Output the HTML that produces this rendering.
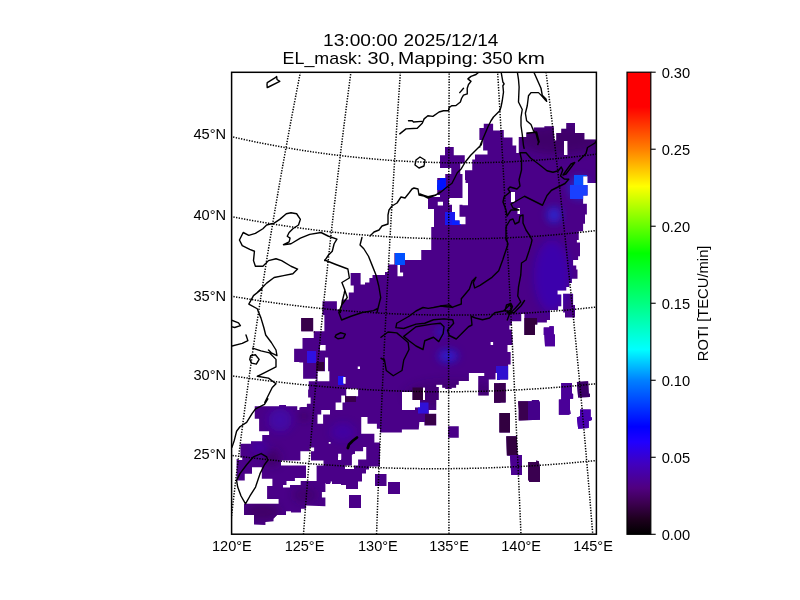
<!DOCTYPE html>
<html><head><meta charset="utf-8"><style>
html,body{margin:0;padding:0;background:#fff;width:800px;height:600px;overflow:hidden}
svg{display:block}
text{font-family:"Liberation Sans",sans-serif;fill:#000}
</style></head><body>
<svg width="800" height="600" viewBox="0 0 800 600">
<defs>
<clipPath id="bc"><path d="M453.75,146.88 L445.00,146.88 L445.00,155.25 L440.00,155.25 L440.00,168.00 L451.25,168.00 L451.25,174.00 L445.25,174.00 L445.25,178.00 L437.25,178.00 L437.25,185.00 L437.00,185.00 L437.00,189.75 L437.25,189.75 L437.25,195.00 L440.00,195.00 L440.00,196.88 L428.00,196.88 L428.00,208.88 L434.00,208.88 L434.00,226.88 L431.25,226.88 L431.25,250.00 L421.25,250.00 L421.25,260.00 L405.00,260.00 L405.00,253.12 L400.00,253.12 L394.38,253.12 L394.38,264.38 L388.12,264.38 L388.12,271.88 L385.00,271.88 L385.00,275.00 L372.50,275.00 L372.50,278.12 L369.38,278.12 L369.38,282.50 L365.00,282.50 L365.00,284.38 L360.62,284.38 L360.62,273.12 L350.62,273.12 L350.62,285.62 L353.75,285.62 L353.75,292.50 L348.75,292.50 L348.75,299.38 L341.88,299.38 L341.88,309.38 L336.88,309.38 L336.88,301.25 L322.50,301.25 L322.50,315.00 L324.38,315.00 L324.38,331.25 L313.75,331.25 L313.75,338.12 L302.50,338.12 L302.50,348.75 L299.38,348.75 L294.12,348.75 L294.12,361.88 L299.38,361.88 L299.38,362.50 L303.12,362.50 L303.12,378.75 L316.25,378.75 L316.25,381.25 L308.75,381.25 L308.75,389.38 L308.12,389.38 L308.12,397.50 L310.62,397.50 L310.62,403.75 L306.88,403.75 L306.88,406.88 L300.38,406.88 L300.38,407.50 L299.38,407.50 L299.38,410.00 L297.25,410.00 L297.25,406.25 L286.00,406.25 L286.00,405.00 L279.12,405.00 L279.12,406.25 L254.75,406.25 L254.75,418.75 L259.12,418.75 L259.12,431.25 L269.12,431.25 L269.12,435.00 L262.25,435.00 L262.25,441.25 L251.00,441.25 L251.00,443.75 L240.38,443.75 L240.38,457.50 L242.25,457.50 L242.25,460.00 L237.88,460.00 L237.88,459.00 L236.60,459.00 L236.60,480.60 L244.75,480.60 L244.75,473.75 L252.00,473.75 L252.00,467.30 L261.80,467.30 L261.80,478.80 L272.40,478.80 L272.40,485.90 L267.10,485.90 L267.10,499.00 L278.60,499.00 L278.60,503.75 L244.00,503.75 L244.00,515.00 L254.00,515.00 L254.00,524.40 L265.40,525.00 L265.40,521.90 L273.50,521.25 L273.50,518.75 L277.25,515.00 L286.00,515.00 L286.00,511.25 L291.00,511.25 L291.00,512.50 L301.00,512.50 L301.00,508.75 L306.00,508.75 L306.00,505.60 L325.40,506.20 L325.40,497.40 L321.90,497.40 L321.90,492.00 L325.40,492.00 L325.40,483.20 L326.00,483.20 L326.00,484.00 L330.00,484.00 L330.00,483.20 L330.70,483.20 L330.70,481.50 L332.00,481.50 L332.00,484.00 L341.00,484.00 L341.00,485.00 L346.00,485.00 L346.00,489.00 L358.00,489.00 L358.00,481.50 L362.00,481.50 L362.00,473.50 L366.00,473.50 L366.00,469.50 L369.00,469.50 L369.00,466.50 L380.00,466.50 L380.00,465.00 L380.00,454.00 L380.00,442.50 L374.38,442.50 L374.38,433.75 L361.25,433.75 L361.25,423.75 L361.25,416.88 L367.50,416.88 L367.50,423.75 L376.88,423.75 L376.88,428.75 L380.00,428.75 L380.00,432.50 L399.38,432.50 L400.00,432.50 L401.88,432.50 L401.88,429.38 L418.75,429.38 L419.38,421.88 L424.38,421.88 L424.38,425.62 L436.25,425.62 L436.25,413.75 L428.75,413.75 L428.75,410.00 L436.25,410.00 L436.25,400.00 L438.75,400.00 L438.75,386.88 L436.25,386.88 L436.25,384.75 L439.00,384.75 L440.00,384.75 L442.25,384.75 L442.25,387.75 L445.25,387.75 L445.25,388.90 L451.60,388.90 L451.60,387.75 L456.10,387.75 L456.10,384.75 L458.75,384.75 L458.75,381.00 L468.90,381.00 L468.90,373.10 L484.25,373.10 L484.25,376.10 L478.25,376.10 L478.25,395.60 L488.75,395.60 L488.75,379.50 L495.50,379.50 L495.50,373.10 L497.00,373.10 L497.00,379.90 L500.00,379.90 L500.00,379.38 L508.12,379.38 L508.12,364.38 L510.62,364.38 L510.62,351.88 L507.50,351.88 L507.50,345.00 L512.50,345.00 L512.50,335.00 L511.88,335.00 L511.88,329.38 L509.38,329.38 L509.38,325.62 L511.88,325.62 L511.88,321.25 L521.25,321.25 L521.25,313.75 L524.38,313.75 L524.38,335.00 L535.00,335.00 L535.00,324.38 L537.50,324.38 L537.50,322.50 L546.88,322.50 L546.88,320.00 L550.00,320.00 L550.00,310.00 L558.12,310.00 L558.12,306.25 L561.25,306.25 L561.25,294.38 L557.50,294.38 L557.50,290.62 L566.25,290.62 L566.25,286.88 L569.38,286.88 L569.38,283.12 L571.88,283.12 L571.88,278.75 L577.50,278.75 L577.50,269.38 L576.25,269.38 L576.25,265.62 L573.12,265.62 L573.12,260.00 L578.12,260.00 L578.12,256.25 L580.00,256.25 L580.00,242.50 L576.88,242.50 L576.88,240.00 L578.75,240.00 L578.75,231.25 L583.12,231.25 L583.12,223.75 L585.00,223.75 L585.00,214.38 L586.88,214.38 L586.88,203.75 L583.12,203.75 L583.12,195.62 L587.50,195.62 L587.50,185.00 L583.12,185.00 L583.12,176.25 L587.50,176.25 L587.50,183.12 L598.00,183.12 L598.00,139.38 L584.38,139.38 L584.38,133.12 L575.00,133.12 L575.00,123.12 L566.25,123.12 L566.25,128.75 L561.25,128.75 L561.25,133.12 L556.25,133.12 L556.25,140.62 L554.38,140.62 L553.75,126.25 L544.38,126.25 L544.38,127.50 L533.75,127.50 L533.75,132.50 L526.25,132.50 L526.25,136.88 L518.75,136.88 L518.75,153.12 L516.25,153.12 L516.25,145.62 L512.50,145.62 L512.50,137.50 L503.75,137.50 L503.75,130.00 L500.00,130.00 L500.00,130.62 L493.12,130.62 L493.12,123.75 L483.75,123.75 L483.75,128.12 L479.38,128.12 L479.38,140.00 L483.12,140.00 L483.12,150.62 L487.50,150.62 L487.50,154.38 L475.00,154.38 L475.00,159.38 L472.25,159.38 L472.25,170.25 L465.00,170.25 L465.00,180.00 L465.50,180.00 L465.50,183.00 L467.75,183.00 L468.00,183.00 L468.00,205.30 L462.50,205.30 L462.50,204.75 L459.50,204.75 L459.50,216.75 L465.50,216.75 L465.50,224.25 L459.50,224.25 L459.50,220.50 L455.00,220.50 L455.00,212.00 L452.00,212.00 L452.00,204.75 L449.00,204.75 L449.00,198.00 L462.50,198.00 L462.50,185.00 L462.50,183.00 L462.50,174.00 L460.25,174.00 L460.25,163.50 L464.75,163.50 L464.75,155.25 L453.75,155.25Z M403.12,272.50 L403.12,276.25 L400.00,276.25 L398.75,276.25 L397.50,276.25 L397.50,265.00 L400.00,265.00 L400.00,272.50Z M290.00,485.00 L290.00,487.60 L283.00,487.60 L283.00,485.00 L286.50,485.00 L286.50,481.00 L294.90,481.00 L294.90,477.90 L306.00,477.90 L306.00,465.62 L281.00,465.62 L281.00,460.62 L300.38,460.62 L300.38,451.25 L309.75,451.25 L309.75,447.50 L314.12,447.50 L314.12,451.25 L311.00,451.25 L311.00,460.62 L323.50,460.62 L323.50,465.62 L316.60,465.62 L316.60,481.00 L300.70,481.00 L300.70,485.00Z M325.62,345.00 L325.62,350.62 L320.00,350.62 L320.00,345.00Z M325.00,357.50 L328.12,357.50 L328.12,371.25 L329.38,371.25 L329.38,381.25 L317.50,381.25 L317.50,371.25 L325.00,371.25Z M345.62,376.88 L345.62,383.75 L343.12,383.75 L343.12,376.88Z M358.12,388.75 L358.12,396.25 L346.25,396.25 L346.25,388.75Z M345.00,395.62 L345.00,402.50 L342.50,402.50 L342.50,410.00 L335.62,410.00 L335.62,402.50 L341.25,402.50 L341.25,395.62Z M321.25,414.38 L321.25,410.00 L330.00,410.00 L330.00,414.38 L323.12,414.38 L323.12,423.75 L317.50,423.75 L317.50,414.38Z M330.62,441.88 L330.62,443.75 L328.75,443.75 L328.75,441.88Z M341.25,453.75 L341.25,459.38 L341.00,459.38 L341.00,460.00 L338.00,460.00 L338.00,457.00 L338.12,457.00 L338.12,453.75Z M345.00,465.50 L351.88,465.50 L351.88,455.00 L352.50,455.00 L352.50,454.00 L355.00,454.00 L355.00,451.25 L363.12,451.25 L363.12,446.88 L366.25,446.88 L366.25,451.25 L366.25,459.38 L358.12,459.38 L358.12,465.62 L354.00,465.62 L354.00,469.00 L345.00,469.00Z M567.50,141.00 L567.50,155.00 L564.00,155.00 L564.00,141.00Z M515.00,192.00 L515.00,202.00 L511.00,202.00 L511.00,192.00Z M443.00,201.75 L443.00,205.50 L437.75,205.50 L437.75,201.75Z M520.00,208.00 L520.00,214.00 L517.50,214.00 L517.50,208.00Z M490.62,341.88 L493.12,341.88 L493.12,345.00 L490.62,345.00Z M357.75,366.62 L360.00,366.62 L360.00,369.00 L357.75,369.00Z M425.00,387.50 L425.00,400.00 L423.00,400.00 L423.00,387.50Z M415.00,407.50 L415.00,410.00 L402.00,410.00 L402.00,392.00 L412.50,392.00 L412.50,400.00 L420.00,400.00 L420.00,407.50Z M313.12,318.12 L301.25,318.12 L301.25,331.25 L313.12,331.25Z M448.12,426.25 L448.12,437.75 L458.75,437.75 L458.75,426.25Z M386.50,474.00 L375.00,474.00 L375.00,486.00 L386.50,486.00Z M400.00,482.00 L388.00,482.00 L388.00,494.00 L400.00,494.00Z M349.00,495.00 L349.00,508.00 L361.00,508.00 L361.00,495.00Z M573.12,293.75 L563.12,293.75 L563.12,312.50 L565.00,312.50 L565.00,317.50 L575.00,317.50 L575.00,305.00 L573.12,305.00Z M553.75,326.25 L549.38,326.25 L549.38,327.50 L543.75,327.50 L543.75,335.00 L544.41,335.00 L545.00,346.25 L555.00,346.25 L555.00,334.38 L553.75,334.38Z M590.00,396.88 L590.00,393.75 L588.75,393.75 L588.12,381.25 L576.88,381.88 L578.12,397.50Z M500.50,402.75 L500.50,402.50 L505.62,402.50 L505.62,383.12 L499.38,383.12 L499.38,383.25 L494.00,383.25 L494.00,402.75Z M561.25,399.38 L558.75,399.38 L558.75,409.38 L558.75,410.00 L558.75,414.75 L568.75,414.75 L570.62,413.75 L570.00,409.38 L570.00,398.75 L573.12,398.75 L573.12,393.75 L571.88,393.75 L571.88,383.12 L561.25,383.12Z M518.75,410.00 L518.75,420.62 L540.00,419.75 L540.00,410.00 L540.00,409.38 L540.00,403.12 L538.75,400.00 L531.88,400.00 L531.88,401.25 L518.12,401.25Z M591.88,417.50 L590.62,416.88 L590.62,409.38 L580.00,409.38 L580.00,416.25 L576.88,417.50 L578.12,428.75 L588.75,428.12 L588.75,421.25 L591.88,420.00Z M510.00,413.12 L499.38,413.12 L499.38,432.50 L510.00,432.50Z M506.25,436.25 L506.88,455.62 L510.00,455.62 L511.25,475.00 L521.88,475.00 L521.88,455.00 L517.50,455.00 L516.88,436.25Z M528.12,461.88 L528.12,479.38 L529.38,481.88 L540.00,481.88 L540.00,468.12 L538.75,461.25 L536.25,460.62 L536.25,461.88Z" clip-rule="evenodd"/></clipPath>
<filter id="bl" x="-50%" y="-50%" width="200%" height="200%"><feGaussianBlur stdDeviation="4"/></filter>
<clipPath id="mc"><rect x="231.6" y="72.3" width="364.79999999999995" height="461.90000000000003"/></clipPath>
<linearGradient id="cb" x1="0" y1="1" x2="0" y2="0">
<stop offset="0" stop-color="#000000"/>
<stop offset="0.033" stop-color="#1e001e"/>
<stop offset="0.067" stop-color="#3c0050"/>
<stop offset="0.10" stop-color="#500080"/>
<stop offset="0.153" stop-color="#4000c0"/>
<stop offset="0.20" stop-color="#2000ff"/>
<stop offset="0.233" stop-color="#0000ff"/>
<stop offset="0.333" stop-color="#0080ff"/>
<stop offset="0.40" stop-color="#00ffff"/>
<stop offset="0.50" stop-color="#00ff80"/>
<stop offset="0.608" stop-color="#00ff00"/>
<stop offset="0.753" stop-color="#ffff00"/>
<stop offset="0.833" stop-color="#ff8000"/>
<stop offset="0.925" stop-color="#ff0000"/>
<stop offset="1" stop-color="#ff0000"/>
</linearGradient>
</defs>
<rect width="800" height="600" fill="#fff"/>
<g clip-path="url(#mc)">
<path d="M453.75,146.88 L445.00,146.88 L445.00,155.25 L440.00,155.25 L440.00,168.00 L451.25,168.00 L451.25,174.00 L445.25,174.00 L445.25,178.00 L437.25,178.00 L437.25,185.00 L437.00,185.00 L437.00,189.75 L437.25,189.75 L437.25,195.00 L440.00,195.00 L440.00,196.88 L428.00,196.88 L428.00,208.88 L434.00,208.88 L434.00,226.88 L431.25,226.88 L431.25,250.00 L421.25,250.00 L421.25,260.00 L405.00,260.00 L405.00,253.12 L400.00,253.12 L394.38,253.12 L394.38,264.38 L388.12,264.38 L388.12,271.88 L385.00,271.88 L385.00,275.00 L372.50,275.00 L372.50,278.12 L369.38,278.12 L369.38,282.50 L365.00,282.50 L365.00,284.38 L360.62,284.38 L360.62,273.12 L350.62,273.12 L350.62,285.62 L353.75,285.62 L353.75,292.50 L348.75,292.50 L348.75,299.38 L341.88,299.38 L341.88,309.38 L336.88,309.38 L336.88,301.25 L322.50,301.25 L322.50,315.00 L324.38,315.00 L324.38,331.25 L313.75,331.25 L313.75,338.12 L302.50,338.12 L302.50,348.75 L299.38,348.75 L294.12,348.75 L294.12,361.88 L299.38,361.88 L299.38,362.50 L303.12,362.50 L303.12,378.75 L316.25,378.75 L316.25,381.25 L308.75,381.25 L308.75,389.38 L308.12,389.38 L308.12,397.50 L310.62,397.50 L310.62,403.75 L306.88,403.75 L306.88,406.88 L300.38,406.88 L300.38,407.50 L299.38,407.50 L299.38,410.00 L297.25,410.00 L297.25,406.25 L286.00,406.25 L286.00,405.00 L279.12,405.00 L279.12,406.25 L254.75,406.25 L254.75,418.75 L259.12,418.75 L259.12,431.25 L269.12,431.25 L269.12,435.00 L262.25,435.00 L262.25,441.25 L251.00,441.25 L251.00,443.75 L240.38,443.75 L240.38,457.50 L242.25,457.50 L242.25,460.00 L237.88,460.00 L237.88,459.00 L236.60,459.00 L236.60,480.60 L244.75,480.60 L244.75,473.75 L252.00,473.75 L252.00,467.30 L261.80,467.30 L261.80,478.80 L272.40,478.80 L272.40,485.90 L267.10,485.90 L267.10,499.00 L278.60,499.00 L278.60,503.75 L244.00,503.75 L244.00,515.00 L254.00,515.00 L254.00,524.40 L265.40,525.00 L265.40,521.90 L273.50,521.25 L273.50,518.75 L277.25,515.00 L286.00,515.00 L286.00,511.25 L291.00,511.25 L291.00,512.50 L301.00,512.50 L301.00,508.75 L306.00,508.75 L306.00,505.60 L325.40,506.20 L325.40,497.40 L321.90,497.40 L321.90,492.00 L325.40,492.00 L325.40,483.20 L326.00,483.20 L326.00,484.00 L330.00,484.00 L330.00,483.20 L330.70,483.20 L330.70,481.50 L332.00,481.50 L332.00,484.00 L341.00,484.00 L341.00,485.00 L346.00,485.00 L346.00,489.00 L358.00,489.00 L358.00,481.50 L362.00,481.50 L362.00,473.50 L366.00,473.50 L366.00,469.50 L369.00,469.50 L369.00,466.50 L380.00,466.50 L380.00,465.00 L380.00,454.00 L380.00,442.50 L374.38,442.50 L374.38,433.75 L361.25,433.75 L361.25,423.75 L361.25,416.88 L367.50,416.88 L367.50,423.75 L376.88,423.75 L376.88,428.75 L380.00,428.75 L380.00,432.50 L399.38,432.50 L400.00,432.50 L401.88,432.50 L401.88,429.38 L418.75,429.38 L419.38,421.88 L424.38,421.88 L424.38,425.62 L436.25,425.62 L436.25,413.75 L428.75,413.75 L428.75,410.00 L436.25,410.00 L436.25,400.00 L438.75,400.00 L438.75,386.88 L436.25,386.88 L436.25,384.75 L439.00,384.75 L440.00,384.75 L442.25,384.75 L442.25,387.75 L445.25,387.75 L445.25,388.90 L451.60,388.90 L451.60,387.75 L456.10,387.75 L456.10,384.75 L458.75,384.75 L458.75,381.00 L468.90,381.00 L468.90,373.10 L484.25,373.10 L484.25,376.10 L478.25,376.10 L478.25,395.60 L488.75,395.60 L488.75,379.50 L495.50,379.50 L495.50,373.10 L497.00,373.10 L497.00,379.90 L500.00,379.90 L500.00,379.38 L508.12,379.38 L508.12,364.38 L510.62,364.38 L510.62,351.88 L507.50,351.88 L507.50,345.00 L512.50,345.00 L512.50,335.00 L511.88,335.00 L511.88,329.38 L509.38,329.38 L509.38,325.62 L511.88,325.62 L511.88,321.25 L521.25,321.25 L521.25,313.75 L524.38,313.75 L524.38,335.00 L535.00,335.00 L535.00,324.38 L537.50,324.38 L537.50,322.50 L546.88,322.50 L546.88,320.00 L550.00,320.00 L550.00,310.00 L558.12,310.00 L558.12,306.25 L561.25,306.25 L561.25,294.38 L557.50,294.38 L557.50,290.62 L566.25,290.62 L566.25,286.88 L569.38,286.88 L569.38,283.12 L571.88,283.12 L571.88,278.75 L577.50,278.75 L577.50,269.38 L576.25,269.38 L576.25,265.62 L573.12,265.62 L573.12,260.00 L578.12,260.00 L578.12,256.25 L580.00,256.25 L580.00,242.50 L576.88,242.50 L576.88,240.00 L578.75,240.00 L578.75,231.25 L583.12,231.25 L583.12,223.75 L585.00,223.75 L585.00,214.38 L586.88,214.38 L586.88,203.75 L583.12,203.75 L583.12,195.62 L587.50,195.62 L587.50,185.00 L583.12,185.00 L583.12,176.25 L587.50,176.25 L587.50,183.12 L598.00,183.12 L598.00,139.38 L584.38,139.38 L584.38,133.12 L575.00,133.12 L575.00,123.12 L566.25,123.12 L566.25,128.75 L561.25,128.75 L561.25,133.12 L556.25,133.12 L556.25,140.62 L554.38,140.62 L553.75,126.25 L544.38,126.25 L544.38,127.50 L533.75,127.50 L533.75,132.50 L526.25,132.50 L526.25,136.88 L518.75,136.88 L518.75,153.12 L516.25,153.12 L516.25,145.62 L512.50,145.62 L512.50,137.50 L503.75,137.50 L503.75,130.00 L500.00,130.00 L500.00,130.62 L493.12,130.62 L493.12,123.75 L483.75,123.75 L483.75,128.12 L479.38,128.12 L479.38,140.00 L483.12,140.00 L483.12,150.62 L487.50,150.62 L487.50,154.38 L475.00,154.38 L475.00,159.38 L472.25,159.38 L472.25,170.25 L465.00,170.25 L465.00,180.00 L465.50,180.00 L465.50,183.00 L467.75,183.00 L468.00,183.00 L468.00,205.30 L462.50,205.30 L462.50,204.75 L459.50,204.75 L459.50,216.75 L465.50,216.75 L465.50,224.25 L459.50,224.25 L459.50,220.50 L455.00,220.50 L455.00,212.00 L452.00,212.00 L452.00,204.75 L449.00,204.75 L449.00,198.00 L462.50,198.00 L462.50,185.00 L462.50,183.00 L462.50,174.00 L460.25,174.00 L460.25,163.50 L464.75,163.50 L464.75,155.25 L453.75,155.25Z M403.12,272.50 L403.12,276.25 L400.00,276.25 L398.75,276.25 L397.50,276.25 L397.50,265.00 L400.00,265.00 L400.00,272.50Z M290.00,485.00 L290.00,487.60 L283.00,487.60 L283.00,485.00 L286.50,485.00 L286.50,481.00 L294.90,481.00 L294.90,477.90 L306.00,477.90 L306.00,465.62 L281.00,465.62 L281.00,460.62 L300.38,460.62 L300.38,451.25 L309.75,451.25 L309.75,447.50 L314.12,447.50 L314.12,451.25 L311.00,451.25 L311.00,460.62 L323.50,460.62 L323.50,465.62 L316.60,465.62 L316.60,481.00 L300.70,481.00 L300.70,485.00Z M325.62,345.00 L325.62,350.62 L320.00,350.62 L320.00,345.00Z M325.00,357.50 L328.12,357.50 L328.12,371.25 L329.38,371.25 L329.38,381.25 L317.50,381.25 L317.50,371.25 L325.00,371.25Z M345.62,376.88 L345.62,383.75 L343.12,383.75 L343.12,376.88Z M358.12,388.75 L358.12,396.25 L346.25,396.25 L346.25,388.75Z M345.00,395.62 L345.00,402.50 L342.50,402.50 L342.50,410.00 L335.62,410.00 L335.62,402.50 L341.25,402.50 L341.25,395.62Z M321.25,414.38 L321.25,410.00 L330.00,410.00 L330.00,414.38 L323.12,414.38 L323.12,423.75 L317.50,423.75 L317.50,414.38Z M330.62,441.88 L330.62,443.75 L328.75,443.75 L328.75,441.88Z M341.25,453.75 L341.25,459.38 L341.00,459.38 L341.00,460.00 L338.00,460.00 L338.00,457.00 L338.12,457.00 L338.12,453.75Z M345.00,465.50 L351.88,465.50 L351.88,455.00 L352.50,455.00 L352.50,454.00 L355.00,454.00 L355.00,451.25 L363.12,451.25 L363.12,446.88 L366.25,446.88 L366.25,451.25 L366.25,459.38 L358.12,459.38 L358.12,465.62 L354.00,465.62 L354.00,469.00 L345.00,469.00Z M567.50,141.00 L567.50,155.00 L564.00,155.00 L564.00,141.00Z M515.00,192.00 L515.00,202.00 L511.00,202.00 L511.00,192.00Z M443.00,201.75 L443.00,205.50 L437.75,205.50 L437.75,201.75Z M520.00,208.00 L520.00,214.00 L517.50,214.00 L517.50,208.00Z M490.62,341.88 L493.12,341.88 L493.12,345.00 L490.62,345.00Z M357.75,366.62 L360.00,366.62 L360.00,369.00 L357.75,369.00Z M425.00,387.50 L425.00,400.00 L423.00,400.00 L423.00,387.50Z M415.00,407.50 L415.00,410.00 L402.00,410.00 L402.00,392.00 L412.50,392.00 L412.50,400.00 L420.00,400.00 L420.00,407.50Z M313.12,318.12 L301.25,318.12 L301.25,331.25 L313.12,331.25Z M448.12,426.25 L448.12,437.75 L458.75,437.75 L458.75,426.25Z M386.50,474.00 L375.00,474.00 L375.00,486.00 L386.50,486.00Z M400.00,482.00 L388.00,482.00 L388.00,494.00 L400.00,494.00Z M349.00,495.00 L349.00,508.00 L361.00,508.00 L361.00,495.00Z M573.12,293.75 L563.12,293.75 L563.12,312.50 L565.00,312.50 L565.00,317.50 L575.00,317.50 L575.00,305.00 L573.12,305.00Z M553.75,326.25 L549.38,326.25 L549.38,327.50 L543.75,327.50 L543.75,335.00 L544.41,335.00 L545.00,346.25 L555.00,346.25 L555.00,334.38 L553.75,334.38Z M590.00,396.88 L590.00,393.75 L588.75,393.75 L588.12,381.25 L576.88,381.88 L578.12,397.50Z M500.50,402.75 L500.50,402.50 L505.62,402.50 L505.62,383.12 L499.38,383.12 L499.38,383.25 L494.00,383.25 L494.00,402.75Z M561.25,399.38 L558.75,399.38 L558.75,409.38 L558.75,410.00 L558.75,414.75 L568.75,414.75 L570.62,413.75 L570.00,409.38 L570.00,398.75 L573.12,398.75 L573.12,393.75 L571.88,393.75 L571.88,383.12 L561.25,383.12Z M518.75,410.00 L518.75,420.62 L540.00,419.75 L540.00,410.00 L540.00,409.38 L540.00,403.12 L538.75,400.00 L531.88,400.00 L531.88,401.25 L518.12,401.25Z M591.88,417.50 L590.62,416.88 L590.62,409.38 L580.00,409.38 L580.00,416.25 L576.88,417.50 L578.12,428.75 L588.75,428.12 L588.75,421.25 L591.88,420.00Z M510.00,413.12 L499.38,413.12 L499.38,432.50 L510.00,432.50Z M506.25,436.25 L506.88,455.62 L510.00,455.62 L511.25,475.00 L521.88,475.00 L521.88,455.00 L517.50,455.00 L516.88,436.25Z M528.12,461.88 L528.12,479.38 L529.38,481.88 L540.00,481.88 L540.00,468.12 L538.75,461.25 L536.25,460.62 L536.25,461.88Z" fill="#4a0088" fill-rule="evenodd"/><g clip-path="url(#bc)"><g filter="url(#bl)"><ellipse cx="579" cy="188" rx="10" ry="11" fill="#0050ff" opacity="0.5"/>
<ellipse cx="554" cy="215" rx="7" ry="8" fill="#1040ff" opacity="0.6"/>
<ellipse cx="552" cy="276" rx="18" ry="36" fill="#2010ff" opacity="0.3"/>
<ellipse cx="560" cy="140" rx="40" ry="14" fill="#300040" opacity="0.4"/>
<ellipse cx="448" cy="356" rx="10" ry="6" fill="#1030ff" opacity="0.6"/>
<ellipse cx="441" cy="332" rx="4" ry="4" fill="#1030ff" opacity="0.6"/>
<ellipse cx="455" cy="395" rx="50" ry="14" fill="#300050" opacity="0.35"/>
<ellipse cx="262" cy="512" rx="18" ry="9" fill="#300040" opacity="0.45"/>
<ellipse cx="272" cy="458" rx="8" ry="8" fill="#300040" opacity="0.45"/>
<ellipse cx="305" cy="495" rx="12" ry="8" fill="#300040" opacity="0.3"/>
<ellipse cx="280" cy="420" rx="12" ry="12" fill="#3010e0" opacity="0.35"/>
<ellipse cx="259" cy="447" rx="8" ry="6" fill="#3010e0" opacity="0.3"/>
<ellipse cx="343" cy="432" rx="12" ry="9" fill="#3010e0" opacity="0.3"/>
<ellipse cx="304" cy="416" rx="7" ry="5" fill="#300040" opacity="0.35"/>
</g><rect x="395" y="252" width="10" height="13" fill="#0050ff"/>
<rect x="437" y="180" width="9" height="10" fill="#0020ff"/>
<rect x="440" y="178" width="6" height="12" fill="#0010ff"/>
<rect x="522" y="318" width="15" height="19" fill="#32003e"/>
<rect x="543" y="325" width="13" height="23" fill="#4e009c"/>
<rect x="496" y="366" width="13" height="14" fill="#3010d0"/>
<rect x="492" y="381" width="15" height="22" fill="#3a0050"/>
<rect x="516" y="399" width="12" height="23" fill="#3a0050"/>
<rect x="528" y="399" width="13" height="23" fill="#44008a"/>
<rect x="496" y="412" width="15" height="22" fill="#320040"/>
<rect x="504" y="435" width="16" height="21" fill="#320040"/>
<rect x="508" y="455" width="16" height="21" fill="#4a0090"/>
<rect x="526" y="460" width="16" height="23" fill="#3a0050"/>
<rect x="559" y="380" width="15" height="35" fill="#4a0098"/>
<rect x="576" y="379" width="15" height="20" fill="#3a0068"/>
<rect x="576" y="405" width="16" height="26" fill="#4a00b0"/>
<rect x="300" y="317" width="15" height="16" fill="#38004a"/>
<rect x="307" y="351" width="9" height="12" fill="#3010e0"/>
<rect x="316" y="362" width="8" height="9" fill="#30003a"/>
<rect x="338" y="376" width="6" height="9" fill="#2010f0"/>
<rect x="574" y="175" width="13" height="14" fill="#0a50ff"/>
<rect x="570" y="185" width="18" height="14" fill="#1a40ff"/>
<rect x="445" y="212" width="10" height="13" fill="#1a18f0"/>
<rect x="452" y="220" width="9" height="5" fill="#0a20ff"/>
<rect x="412.5" y="387.5" width="10.5" height="12.5" fill="#30003a"/>
<rect x="425" y="414" width="11" height="11" fill="#38004a"/>
<rect x="418" y="402.5" width="10.5" height="11" fill="#3010d8"/>
<rect x="344" y="396" width="12" height="6" fill="#38004a"/>
</g>
<path d="M214.32,693.29 L214.64,689.28 L214.97,685.27 L215.30,681.27 L215.64,677.27 L215.98,673.27 L216.32,669.27 L216.66,665.27 L217.00,661.27 L217.35,657.27 L217.70,653.28 L218.06,649.28 L218.41,645.29 L218.77,641.30 L219.14,637.31 L219.50,633.32 L219.87,629.33 L220.24,625.34 L220.62,621.36 L220.99,617.37 L221.37,613.39 L221.76,609.41 L222.14,605.43 L222.53,601.45 L222.92,597.47 L223.31,593.49 L223.71,589.52 L224.11,585.54 L224.51,581.57 L224.91,577.59 L225.32,573.62 L225.73,569.65 L226.15,565.68 L226.56,561.72 L226.98,557.75 L227.40,553.79 L227.83,549.82 L228.25,545.86 L228.68,541.90 L229.11,537.94 L229.55,533.98 L229.99,530.02 L230.43,526.07 L230.87,522.11 L231.32,518.16 L231.76,514.21 L232.22,510.26 L232.67,506.31 L233.13,502.36 L233.59,498.41 L234.05,494.47 L234.51,490.52 L234.98,486.58 L235.45,482.64 L235.92,478.70 L236.40,474.76 L236.88,470.82 L237.36,466.88 L237.84,462.95 L238.33,459.01 L238.82,455.08 L239.31,451.15 L239.81,447.22 L240.30,443.29 L240.80,439.37 L241.31,435.44 L241.81,431.51 L242.32,427.59 L242.83,423.67 L243.34,419.75 L243.86,415.83 L244.38,411.91 L244.90,408.00 L245.42,404.08 L245.95,400.17 L246.48,396.25 L247.01,392.34 L247.54,388.43 L248.08,384.52 L248.62,380.62 L249.16,376.71 L249.71,372.81 L250.26,368.91 L250.81,365.00 L251.36,361.10 L251.92,357.20 L252.47,353.31 L253.03,349.41 L253.60,345.52 L254.16,341.62 L254.73,337.73 L255.30,333.84 L255.88,329.95 L256.45,326.07 L257.03,322.18 L257.62,318.29 L258.20,314.41 L258.79,310.53 L259.38,306.65 L259.97,302.77 L260.56,298.89 L261.16,295.02 L261.76,291.14 L262.37,287.27 L262.97,283.40 L263.58,279.53 L264.19,275.66 L264.80,271.79 L265.42,267.92 L266.04,264.06 L266.66,260.20 L267.28,256.33 L267.91,252.47 L268.54,248.61 L269.17,244.76 L269.80,240.90 L270.44,237.05 L271.08,233.19 L271.72,229.34 L272.37,225.49 L273.01,221.64 L273.66,217.80 L274.32,213.95 L274.97,210.11 L275.63,206.27 L276.29,202.42 L276.95,198.58 L277.62,194.75 L278.28,190.91 L278.96,187.07 L279.63,183.24 L280.30,179.41 L280.98,175.58 L281.66,171.75 L282.35,167.92 L283.03,164.10 L283.72,160.27 L284.41,156.45 L285.11,152.63 L285.80,148.81 L286.50,144.99 L287.21,141.17 L287.91,137.36 L288.62,133.54 L289.33,129.73 L290.04,125.92 L290.75,122.11 L291.47,118.30 L292.19,114.50 L292.92,110.69 L293.64,106.89 L294.37,103.09 L295.10,99.29 L295.83,95.49 L296.57,91.70 L297.31,87.90 L298.05,84.11 L298.79,80.32 L299.54,76.53 L300.29,72.74 L301.04,68.95 L301.79,65.17 L302.55,61.38 L303.31,57.60 L304.07,53.82 L304.84,50.04 L305.60,46.26 L306.37,42.49 L307.15,38.71 L307.92,34.94 L308.70,31.17 L309.48,27.40 L310.26,23.63 L311.05,19.87 L311.84,16.10 L312.63,12.34 L313.42,8.58 L314.22,4.82 L315.02,1.06 L315.82,-2.69 L316.62,-6.45 L317.43,-10.20 L318.24,-13.95 L319.05,-17.70 L319.87,-21.45 L320.68,-25.19 L321.51,-28.94 L322.33,-32.68 L323.15,-36.42 L323.98,-40.16 L324.81,-43.90 L325.65,-47.63 L326.48,-51.37 L327.32,-55.10 L328.16,-58.83 L329.01,-62.56 L329.86,-66.29 L330.71,-70.01 L331.56,-73.74 L332.41,-77.46 M293.24,698.98 L293.45,695.01 L293.66,691.03 L293.87,687.06 L294.08,683.09 L294.29,679.13 L294.51,675.16 L294.72,671.19 L294.94,667.23 L295.16,663.26 L295.39,659.30 L295.61,655.34 L295.84,651.37 L296.07,647.41 L296.30,643.45 L296.54,639.49 L296.77,635.54 L297.01,631.58 L297.25,627.62 L297.49,623.67 L297.73,619.72 L297.98,615.76 L298.22,611.81 L298.47,607.86 L298.72,603.91 L298.98,599.96 L299.23,596.01 L299.49,592.07 L299.75,588.12 L300.01,584.18 L300.27,580.23 L300.54,576.29 L300.80,572.35 L301.07,568.41 L301.34,564.47 L301.61,560.53 L301.89,556.59 L302.16,552.65 L302.44,548.72 L302.72,544.78 L303.00,540.85 L303.29,536.92 L303.57,532.98 L303.86,529.05 L304.15,525.12 L304.44,521.19 L304.73,517.27 L305.03,513.34 L305.32,509.41 L305.62,505.49 L305.92,501.57 L306.23,497.64 L306.53,493.72 L306.84,489.80 L307.15,485.88 L307.46,481.97 L307.77,478.05 L308.08,474.13 L308.40,470.22 L308.72,466.30 L309.03,462.39 L309.36,458.48 L309.68,454.57 L310.00,450.66 L310.33,446.75 L310.66,442.84 L310.99,438.93 L311.32,435.03 L311.66,431.12 L311.99,427.22 L312.33,423.32 L312.67,419.42 L313.01,415.52 L313.36,411.62 L313.70,407.72 L314.05,403.82 L314.40,399.93 L314.75,396.03 L315.11,392.14 L315.46,388.25 L315.82,384.35 L316.18,380.46 L316.54,376.57 L316.90,372.69 L317.26,368.80 L317.63,364.91 L318.00,361.03 L318.37,357.14 L318.74,353.26 L319.11,349.38 L319.49,345.50 L319.86,341.62 L320.24,337.74 L320.62,333.86 L321.01,329.99 L321.39,326.11 L321.78,322.24 L322.17,318.37 L322.55,314.49 L322.95,310.62 L323.34,306.75 L323.74,302.88 L324.13,299.02 L324.53,295.15 L324.93,291.29 L325.34,287.42 L325.74,283.56 L326.15,279.70 L326.56,275.84 L326.97,271.98 L327.38,268.12 L327.79,264.26 L328.21,260.41 L328.63,256.55 L329.04,252.70 L329.47,248.85 L329.89,244.99 L330.31,241.14 L330.74,237.29 L331.17,233.45 L331.60,229.60 L332.03,225.75 L332.47,221.91 L332.90,218.07 L333.34,214.22 L333.78,210.38 L334.22,206.54 L334.66,202.70 L335.11,198.87 L335.56,195.03 L336.00,191.20 L336.45,187.36 L336.91,183.53 L337.36,179.70 L337.82,175.87 L338.28,172.04 L338.74,168.21 L339.20,164.38 L339.66,160.56 L340.13,156.73 L340.59,152.91 L341.06,149.09 L341.53,145.27 L342.00,141.45 L342.48,137.63 L342.96,133.81 L343.43,129.99 L343.91,126.18 L344.40,122.36 L344.88,118.55 L345.37,114.74 L345.85,110.93 L346.34,107.12 L346.83,103.31 L347.33,99.51 L347.82,95.70 L348.32,91.90 L348.82,88.09 L349.32,84.29 L349.82,80.49 L350.32,76.69 L350.83,72.89 L351.34,69.10 L351.85,65.30 L352.36,61.51 L352.87,57.71 L353.39,53.92 L353.90,50.13 L354.42,46.34 L354.94,42.55 L355.47,38.77 L355.99,34.98 L356.52,31.20 L357.05,27.41 L357.58,23.63 L358.11,19.85 L358.64,16.07 L359.18,12.29 L359.71,8.51 L360.25,4.74 L360.80,0.96 L361.34,-2.81 L361.88,-6.58 L362.43,-10.35 L362.98,-14.12 L363.53,-17.89 L364.08,-21.66 L364.64,-25.42 L365.20,-29.19 L365.75,-32.95 L366.31,-36.71 L366.88,-40.47 L367.44,-44.23 L368.01,-47.99 L368.57,-51.74 L369.14,-55.50 L369.72,-59.25 L370.29,-63.01 L370.87,-66.76 L371.44,-70.51 M371.77,701.59 L371.86,697.65 L371.95,693.71 L372.04,689.77 L372.13,685.83 L372.23,681.89 L372.32,677.95 L372.42,674.01 L372.52,670.07 L372.61,666.14 L372.71,662.20 L372.81,658.27 L372.91,654.33 L373.02,650.40 L373.12,646.47 L373.23,642.54 L373.33,638.61 L373.44,634.68 L373.55,630.75 L373.66,626.82 L373.77,622.90 L373.88,618.97 L373.99,615.04 L374.10,611.12 L374.22,607.20 L374.33,603.27 L374.45,599.35 L374.57,595.43 L374.69,591.51 L374.81,587.59 L374.93,583.67 L375.05,579.75 L375.17,575.84 L375.30,571.92 L375.42,568.01 L375.55,564.09 L375.68,560.18 L375.81,556.26 L375.94,552.35 L376.07,548.44 L376.20,544.53 L376.33,540.62 L376.47,536.71 L376.60,532.81 L376.74,528.90 L376.88,524.99 L377.02,521.09 L377.16,517.18 L377.30,513.28 L377.44,509.38 L377.58,505.48 L377.72,501.58 L377.87,497.68 L378.02,493.78 L378.16,489.88 L378.31,485.98 L378.46,482.09 L378.61,478.19 L378.76,474.30 L378.91,470.40 L379.07,466.51 L379.22,462.62 L379.38,458.73 L379.53,454.83 L379.69,450.95 L379.85,447.06 L380.01,443.17 L380.17,439.28 L380.33,435.40 L380.50,431.51 L380.66,427.63 L380.83,423.74 L380.99,419.86 L381.16,415.98 L381.33,412.10 L381.50,408.22 L381.67,404.34 L381.84,400.46 L382.01,396.58 L382.19,392.71 L382.36,388.83 L382.54,384.96 L382.71,381.08 L382.89,377.21 L383.07,373.34 L383.25,369.47 L383.43,365.60 L383.61,361.73 L383.80,357.86 L383.98,353.99 L384.17,350.12 L384.35,346.26 L384.54,342.39 L384.73,338.53 L384.92,334.67 L385.11,330.80 L385.30,326.94 L385.49,323.08 L385.69,319.22 L385.88,315.36 L386.08,311.50 L386.27,307.65 L386.47,303.79 L386.67,299.94 L386.87,296.08 L387.07,292.23 L387.27,288.38 L387.48,284.52 L387.68,280.67 L387.89,276.82 L388.09,272.97 L388.30,269.13 L388.51,265.28 L388.72,261.43 L388.93,257.59 L389.14,253.74 L389.35,249.90 L389.57,246.06 L389.78,242.22 L390.00,238.38 L390.21,234.54 L390.43,230.70 L390.65,226.86 L390.87,223.02 L391.09,219.19 L391.31,215.35 L391.54,211.52 L391.76,207.68 L391.99,203.85 L392.21,200.02 L392.44,196.19 L392.67,192.36 L392.90,188.53 L393.13,184.70 L393.36,180.87 L393.59,177.05 L393.83,173.22 L394.06,169.40 L394.30,165.57 L394.53,161.75 L394.77,157.93 L395.01,154.11 L395.25,150.29 L395.49,146.47 L395.73,142.65 L395.98,138.84 L396.22,135.02 L396.47,131.20 L396.71,127.39 L396.96,123.58 L397.21,119.77 L397.46,115.95 L397.71,112.14 L397.96,108.33 L398.21,104.53 L398.47,100.72 L398.72,96.91 L398.98,93.11 L399.23,89.30 L399.49,85.50 L399.75,81.69 L400.01,77.89 L400.27,74.09 L400.54,70.29 L400.80,66.49 L401.06,62.69 L401.33,58.90 L401.60,55.10 L401.86,51.30 L402.13,47.51 L402.40,43.72 L402.67,39.92 L402.94,36.13 L403.22,32.34 L403.49,28.55 L403.77,24.76 L404.04,20.97 L404.32,17.19 L404.60,13.40 L404.88,9.62 L405.16,5.83 L405.44,2.05 L405.72,-1.73 L406.01,-5.51 L406.29,-9.29 L406.58,-13.07 L406.86,-16.85 L407.15,-20.63 L407.44,-24.40 L407.73,-28.18 L408.02,-31.95 L408.32,-35.73 L408.61,-39.50 L408.90,-43.27 L409.20,-47.04 L409.50,-50.81 L409.79,-54.58 L410.09,-58.35 L410.39,-62.11 L410.70,-65.88 M449.80,701.20 L449.78,697.28 L449.75,693.37 L449.73,689.45 L449.70,685.54 L449.68,681.62 L449.66,677.71 L449.63,673.80 L449.61,669.89 L449.59,665.97 L449.56,662.06 L449.54,658.16 L449.52,654.25 L449.50,650.34 L449.48,646.43 L449.46,642.52 L449.43,638.62 L449.41,634.71 L449.39,630.81 L449.37,626.91 L449.35,623.00 L449.33,619.10 L449.31,615.20 L449.30,611.30 L449.28,607.40 L449.26,603.50 L449.24,599.60 L449.22,595.70 L449.20,591.81 L449.19,587.91 L449.17,584.02 L449.15,580.12 L449.14,576.23 L449.12,572.33 L449.10,568.44 L449.09,564.55 L449.07,560.66 L449.06,556.77 L449.04,552.88 L449.03,548.99 L449.01,545.10 L449.00,541.22 L448.98,537.33 L448.97,533.44 L448.95,529.56 L448.94,525.68 L448.93,521.79 L448.91,517.91 L448.90,514.03 L448.89,510.15 L448.88,506.27 L448.87,502.39 L448.85,498.51 L448.84,494.63 L448.83,490.75 L448.82,486.88 L448.81,483.00 L448.80,479.12 L448.79,475.25 L448.78,471.38 L448.77,467.50 L448.76,463.63 L448.75,459.76 L448.74,455.89 L448.74,452.02 L448.73,448.15 L448.72,444.28 L448.71,440.41 L448.70,436.55 L448.70,432.68 L448.69,428.81 L448.68,424.95 L448.68,421.09 L448.67,417.22 L448.67,413.36 L448.66,409.50 L448.66,405.64 L448.65,401.78 L448.65,397.92 L448.64,394.06 L448.64,390.20 L448.63,386.34 L448.63,382.49 L448.63,378.63 L448.62,374.78 L448.62,370.92 L448.62,367.07 L448.61,363.22 L448.61,359.36 L448.61,355.51 L448.61,351.66 L448.61,347.81 L448.61,343.96 L448.60,340.12 L448.60,336.27 L448.60,332.42 L448.60,328.58 L448.60,324.73 L448.60,320.89 L448.61,317.04 L448.61,313.20 L448.61,309.36 L448.61,305.52 L448.61,301.67 L448.61,297.83 L448.61,293.99 L448.62,290.16 L448.62,286.32 L448.62,282.48 L448.63,278.65 L448.63,274.81 L448.63,270.97 L448.64,267.14 L448.64,263.31 L448.65,259.47 L448.65,255.64 L448.66,251.81 L448.66,247.98 L448.67,244.15 L448.67,240.32 L448.68,236.50 L448.69,232.67 L448.69,228.84 L448.70,225.02 L448.71,221.19 L448.71,217.37 L448.72,213.54 L448.73,209.72 L448.74,205.90 L448.75,202.08 L448.76,198.26 L448.76,194.44 L448.77,190.62 L448.78,186.80 L448.79,182.98 L448.80,179.16 L448.81,175.35 L448.82,171.53 L448.84,167.72 L448.85,163.90 L448.86,160.09 L448.87,156.28 L448.88,152.47 L448.89,148.66 L448.91,144.85 L448.92,141.04 L448.93,137.23 L448.94,133.42 L448.96,129.61 L448.97,125.81 L448.99,122.00 L449.00,118.20 L449.01,114.39 L449.03,110.59 L449.04,106.79 L449.06,102.98 L449.08,99.18 L449.09,95.38 L449.11,91.58 L449.12,87.78 L449.14,83.98 L449.16,80.19 L449.17,76.39 L449.19,72.59 L449.21,68.80 L449.23,65.00 L449.24,61.21 L449.26,57.42 L449.28,53.63 L449.30,49.83 L449.32,46.04 L449.34,42.25 L449.36,38.46 L449.38,34.68 L449.40,30.89 L449.42,27.10 L449.44,23.32 L449.46,19.53 L449.48,15.75 L449.50,11.96 L449.53,8.18 L449.55,4.40 L449.57,0.61 L449.59,-3.17 L449.62,-6.95 L449.64,-10.73 L449.66,-14.51 L449.69,-18.28 L449.71,-22.06 L449.73,-25.84 L449.76,-29.61 L449.78,-33.39 L449.81,-37.16 L449.83,-40.94 L449.86,-44.71 L449.88,-48.48 L449.91,-52.25 L449.94,-56.02 L449.96,-59.79 L449.99,-63.56 M527.23,697.87 L527.10,693.97 L526.96,690.08 L526.82,686.18 L526.68,682.29 L526.54,678.40 L526.40,674.50 L526.26,670.61 L526.12,666.72 L525.98,662.83 L525.84,658.94 L525.69,655.06 L525.55,651.17 L525.41,647.28 L525.26,643.40 L525.12,639.51 L524.97,635.63 L524.83,631.74 L524.68,627.86 L524.53,623.98 L524.38,620.10 L524.23,616.22 L524.09,612.34 L523.94,608.46 L523.79,604.58 L523.63,600.70 L523.48,596.82 L523.33,592.95 L523.18,589.07 L523.03,585.20 L522.87,581.32 L522.72,577.45 L522.56,573.58 L522.41,569.70 L522.25,565.83 L522.09,561.96 L521.94,558.09 L521.78,554.22 L521.62,550.35 L521.46,546.49 L521.30,542.62 L521.14,538.75 L520.98,534.89 L520.82,531.02 L520.66,527.16 L520.50,523.29 L520.34,519.43 L520.17,515.57 L520.01,511.71 L519.85,507.85 L519.68,503.99 L519.52,500.13 L519.35,496.27 L519.18,492.41 L519.02,488.55 L518.85,484.70 L518.68,480.84 L518.51,476.99 L518.34,473.13 L518.17,469.28 L518.00,465.43 L517.83,461.57 L517.66,457.72 L517.49,453.87 L517.32,450.02 L517.15,446.17 L516.97,442.32 L516.80,438.48 L516.62,434.63 L516.45,430.78 L516.27,426.94 L516.10,423.09 L515.92,419.25 L515.74,415.40 L515.57,411.56 L515.39,407.72 L515.21,403.88 L515.03,400.04 L514.85,396.19 L514.67,392.36 L514.49,388.52 L514.31,384.68 L514.13,380.84 L513.94,377.00 L513.76,373.17 L513.58,369.33 L513.39,365.50 L513.21,361.66 L513.02,357.83 L512.84,354.00 L512.65,350.16 L512.47,346.33 L512.28,342.50 L512.09,338.67 L511.90,334.84 L511.71,331.01 L511.52,327.19 L511.33,323.36 L511.14,319.53 L510.95,315.71 L510.76,311.88 L510.57,308.06 L510.38,304.23 L510.19,300.41 L509.99,296.59 L509.80,292.77 L509.60,288.94 L509.41,285.12 L509.21,281.30 L509.02,277.48 L508.82,273.67 L508.62,269.85 L508.42,266.03 L508.23,262.22 L508.03,258.40 L507.83,254.58 L507.63,250.77 L507.43,246.96 L507.23,243.14 L507.03,239.33 L506.82,235.52 L506.62,231.71 L506.42,227.90 L506.21,224.09 L506.01,220.28 L505.81,216.47 L505.60,212.66 L505.40,208.86 L505.19,205.05 L504.98,201.24 L504.77,197.44 L504.57,193.63 L504.36,189.83 L504.15,186.03 L503.94,182.22 L503.73,178.42 L503.52,174.62 L503.31,170.82 L503.10,167.02 L502.89,163.22 L502.67,159.42 L502.46,155.63 L502.25,151.83 L502.03,148.03 L501.82,144.24 L501.60,140.44 L501.39,136.65 L501.17,132.85 L500.95,129.06 L500.73,125.27 L500.52,121.47 L500.30,117.68 L500.08,113.89 L499.86,110.10 L499.64,106.31 L499.42,102.53 L499.20,98.74 L498.98,94.95 L498.75,91.16 L498.53,87.38 L498.31,83.59 L498.08,79.81 L497.86,76.02 L497.63,72.24 L497.41,68.46 L497.18,64.67 L496.95,60.89 L496.73,57.11 L496.50,53.33 L496.27,49.55 L496.04,45.77 L495.81,41.99 L495.58,38.22 L495.35,34.44 L495.12,30.66 L494.89,26.89 L494.66,23.11 L494.42,19.34 L494.19,15.56 L493.96,11.79 L493.72,8.02 L493.49,4.25 L493.25,0.48 L493.01,-3.30 L492.78,-7.07 L492.54,-10.83 L492.30,-14.60 L492.06,-18.37 L491.82,-22.14 L491.58,-25.91 L491.34,-29.67 L491.10,-33.44 L490.86,-37.20 L490.62,-40.97 L490.38,-44.73 L490.13,-48.49 L489.89,-52.26 L489.64,-56.02 L489.40,-59.78 L489.15,-63.54 M603.97,691.63 L603.72,687.75 L603.47,683.88 L603.22,680.00 L602.97,676.12 L602.72,672.25 L602.46,668.38 L602.21,664.50 L601.95,660.63 L601.69,656.76 L601.43,652.89 L601.17,649.02 L600.90,645.15 L600.64,641.28 L600.37,637.41 L600.10,633.55 L599.83,629.68 L599.56,625.81 L599.29,621.95 L599.02,618.09 L598.74,614.22 L598.47,610.36 L598.19,606.50 L597.91,602.64 L597.63,598.78 L597.35,594.92 L597.06,591.06 L596.78,587.20 L596.49,583.35 L596.21,579.49 L595.92,575.64 L595.63,571.78 L595.34,567.93 L595.04,564.07 L594.75,560.22 L594.46,556.37 L594.16,552.52 L593.86,548.67 L593.56,544.82 L593.26,540.97 L592.96,537.12 L592.65,533.28 L592.35,529.43 L592.04,525.58 L591.74,521.74 L591.43,517.90 L591.12,514.05 L590.80,510.21 L590.49,506.37 L590.18,502.53 L589.86,498.69 L589.54,494.85 L589.23,491.01 L588.91,487.17 L588.58,483.33 L588.26,479.50 L587.94,475.66 L587.61,471.82 L587.29,467.99 L586.96,464.16 L586.63,460.32 L586.30,456.49 L585.97,452.66 L585.64,448.83 L585.30,445.00 L584.97,441.17 L584.63,437.34 L584.29,433.51 L583.95,429.69 L583.61,425.86 L583.27,422.03 L582.92,418.21 L582.58,414.38 L582.23,410.56 L581.88,406.74 L581.54,402.92 L581.19,399.09 L580.83,395.27 L580.48,391.45 L580.13,387.63 L579.77,383.81 L579.42,380.00 L579.06,376.18 L578.70,372.36 L578.34,368.55 L577.97,364.73 L577.61,360.92 L577.25,357.10 L576.88,353.29 L576.51,349.48 L576.15,345.67 L575.78,341.86 L575.40,338.05 L575.03,334.24 L574.66,330.43 L574.28,326.62 L573.91,322.81 L573.53,319.01 L573.15,315.20 L572.77,311.39 L572.39,307.59 L572.00,303.79 L571.62,299.98 L571.23,296.18 L570.85,292.38 L570.46,288.58 L570.07,284.78 L569.68,280.98 L569.29,277.18 L568.89,273.38 L568.50,269.58 L568.10,265.78 L567.70,261.99 L567.31,258.19 L566.91,254.40 L566.50,250.60 L566.10,246.81 L565.70,243.01 L565.29,239.22 L564.89,235.43 L564.48,231.64 L564.07,227.85 L563.66,224.06 L563.25,220.27 L562.83,216.48 L562.42,212.69 L562.00,208.91 L561.59,205.12 L561.17,201.34 L560.75,197.55 L560.33,193.77 L559.90,189.98 L559.48,186.20 L559.06,182.42 L558.63,178.64 L558.20,174.85 L557.77,171.07 L557.34,167.29 L556.91,163.51 L556.48,159.74 L556.04,155.96 L555.61,152.18 L555.17,148.40 L554.73,144.63 L554.29,140.85 L553.85,137.08 L553.41,133.31 L552.97,129.53 L552.52,125.76 L552.07,121.99 L551.63,118.22 L551.18,114.45 L550.73,110.68 L550.28,106.91 L549.82,103.14 L549.37,99.37 L548.91,95.60 L548.46,91.84 L548.00,88.07 L547.54,84.30 L547.08,80.54 L546.61,76.77 L546.15,73.01 L545.68,69.25 L545.22,65.49 L544.75,61.72 L544.28,57.96 L543.81,54.20 L543.34,50.44 L542.86,46.68 L542.39,42.93 L541.91,39.17 L541.44,35.41 L540.96,31.65 L540.48,27.90 L539.99,24.14 L539.51,20.39 L539.03,16.63 L538.54,12.88 L538.05,9.13 L537.57,5.38 L537.08,1.62 L536.58,-2.13 L536.09,-5.88 L535.60,-9.63 L535.10,-13.38 L534.60,-17.13 L534.11,-20.87 L533.61,-24.62 L533.10,-28.37 L532.60,-32.11 L532.10,-35.86 L531.59,-39.60 L531.09,-43.35 L530.58,-47.09 L530.07,-50.83 L529.56,-54.58 L529.04,-58.32 L528.53,-62.06 L528.01,-65.80 M-40.93,393.47 L-37.70,394.53 L-34.47,395.58 L-31.23,396.63 L-28.00,397.66 L-24.76,398.69 L-21.52,399.71 L-18.28,400.73 L-15.04,401.73 L-11.80,402.73 L-8.55,403.72 L-5.31,404.70 L-2.06,405.67 L1.19,406.64 L4.44,407.60 L7.69,408.55 L10.94,409.49 L14.20,410.42 L17.45,411.35 L20.71,412.27 L23.97,413.18 L27.22,414.08 L30.48,414.98 L33.75,415.86 L37.01,416.74 L40.27,417.61 L43.53,418.48 L46.80,419.33 L50.06,420.18 L53.33,421.02 L56.60,421.85 L59.87,422.68 L63.14,423.50 L66.41,424.31 L69.68,425.11 L72.95,425.90 L76.23,426.69 L79.50,427.47 L82.78,428.24 L86.05,429.00 L89.33,429.76 L92.61,430.51 L95.88,431.25 L99.16,431.98 L102.44,432.71 L105.72,433.43 L109.00,434.14 L112.28,434.84 L115.57,435.54 L118.85,436.22 L122.13,436.91 L125.41,437.58 L128.70,438.24 L131.98,438.90 L135.27,439.55 L138.55,440.20 L141.84,440.83 L145.13,441.46 L148.41,442.08 L151.70,442.70 L154.99,443.30 L158.28,443.90 L161.57,444.49 L164.86,445.08 L168.14,445.65 L171.43,446.22 L174.72,446.78 L178.01,447.34 L181.30,447.89 L184.59,448.43 L187.89,448.96 L191.18,449.49 L194.47,450.00 L197.76,450.51 L201.05,451.02 L204.34,451.51 L207.63,452.00 L210.93,452.49 L214.22,452.96 L217.51,453.43 L220.80,453.89 L224.09,454.34 L227.39,454.79 L230.68,455.23 L233.97,455.66 L237.26,456.08 L240.55,456.50 L243.85,456.91 L247.14,457.31 L250.43,457.71 L253.72,458.10 L257.01,458.48 L260.30,458.85 L263.59,459.22 L266.89,459.58 L270.18,459.93 L273.47,460.28 L276.76,460.62 L280.05,460.95 L283.34,461.28 L286.63,461.59 L289.92,461.90 L293.20,462.21 L296.49,462.50 L299.78,462.79 L303.07,463.08 L306.36,463.35 L309.64,463.62 L312.93,463.88 L316.22,464.14 L319.50,464.38 L322.79,464.63 L326.07,464.86 L329.36,465.09 L332.64,465.31 L335.92,465.52 L339.21,465.73 L342.49,465.92 L345.77,466.12 L349.05,466.30 L352.33,466.48 L355.61,466.65 L358.89,466.82 L362.17,466.97 L365.45,467.12 L368.73,467.27 L372.00,467.41 L375.28,467.54 L378.55,467.66 L381.83,467.78 L385.10,467.89 L388.38,467.99 L391.65,468.08 L394.92,468.17 L398.19,468.26 L401.46,468.33 L404.73,468.40 L408.00,468.46 L411.26,468.52 L414.53,468.57 L417.80,468.61 L421.06,468.64 L424.33,468.67 L427.59,468.69 L430.85,468.71 L434.11,468.71 L437.37,468.71 L440.63,468.71 L443.89,468.70 L447.15,468.68 L450.40,468.65 L453.66,468.62 L456.91,468.58 L460.16,468.53 L463.42,468.48 L466.67,468.42 L469.92,468.35 L473.16,468.28 L476.41,468.20 L479.66,468.12 L482.90,468.02 L486.15,467.92 L489.39,467.82 L492.63,467.70 L495.87,467.58 L499.11,467.46 L502.35,467.32 L505.58,467.18 L508.82,467.04 L512.05,466.88 L515.29,466.73 L518.52,466.56 L521.75,466.39 L524.98,466.21 L528.20,466.02 L531.43,465.83 L534.65,465.63 L537.88,465.42 L541.10,465.21 L544.32,464.99 L547.54,464.76 L550.75,464.53 L553.97,464.29 L557.18,464.05 L560.40,463.79 L563.61,463.54 L566.82,463.27 L570.03,463.00 L573.23,462.72 L576.44,462.43 L579.64,462.14 L582.84,461.84 L586.04,461.54 L589.24,461.23 L592.44,460.91 L595.64,460.59 L598.83,460.25 L602.02,459.92 L605.21,459.57 L608.40,459.22 L611.59,458.86 L614.77,458.50 L617.96,458.13 L621.14,457.75 L624.32,457.37 L627.50,456.98 L630.67,456.58 L633.85,456.18 L637.02,455.77 L640.19,455.35 L643.36,454.93 L646.53,454.50 L649.69,454.07 L652.85,453.62 L656.02,453.17 L659.17,452.72 L662.33,452.26 L665.49,451.79 L668.64,451.31 L671.79,450.83 L674.94,450.34 L678.09,449.85 L681.24,449.35 L684.38,448.84 L687.52,448.33 L690.66,447.81 L693.80,447.28 L696.93,446.75 L700.07,446.21 L703.20,445.66 L706.33,445.11 L709.45,444.55 L712.58,443.98 L715.70,443.41 L718.82,442.83 L721.94,442.24 L725.05,441.65 L728.17,441.05 L731.28,440.45 L734.39,439.84 L737.49,439.22 L740.60,438.59 L743.70,437.96 L746.80,437.33 L749.90,436.68 L752.99,436.03 L756.09,435.37 L759.18,434.71 L762.26,434.04 L765.35,433.36 L768.43,432.68 L771.51,431.99 L774.59,431.29 L777.67,430.59 L780.74,429.88 L783.81,429.17 L786.88,428.44 L789.95,427.72 L793.01,426.98 L796.07,426.24 L799.13,425.49 L802.18,424.74 L805.24,423.98 L808.29,423.21 L811.33,422.43 L814.38,421.65 L817.42,420.86 L820.46,420.07 L823.50,419.27 L826.53,418.46 L829.56,417.65 L832.59,416.83 L835.62,416.00 L838.64,415.17 L841.66,414.33 L844.68,413.49 L847.70,412.63 L850.71,411.77 L853.72,410.91 L856.72,410.04 L859.73,409.16 L862.73,408.27 L865.73,407.38 L868.72,406.48 L871.71,405.58 L874.70,404.67 L877.69,403.75 L880.67,402.82 L883.65,401.89 L886.63,400.95 L889.60,400.01 L892.57,399.06 L895.54,398.10 L898.51,397.14 L901.47,396.17 L904.43,395.19 L907.38,394.21 L910.33,393.22 L913.28,392.22 L916.23,391.21 M-15.54,314.55 L-12.49,315.62 L-9.45,316.68 L-6.40,317.73 L-3.35,318.77 L-0.30,319.81 L2.75,320.83 L5.81,321.85 L8.86,322.87 L11.92,323.87 L14.98,324.87 L18.04,325.85 L21.10,326.83 L24.17,327.81 L27.23,328.77 L30.30,329.73 L33.37,330.68 L36.44,331.62 L39.51,332.55 L42.58,333.48 L45.66,334.40 L48.73,335.31 L51.81,336.21 L54.89,337.11 L57.97,338.00 L61.05,338.88 L64.14,339.75 L67.22,340.62 L70.31,341.47 L73.39,342.32 L76.48,343.17 L79.57,344.00 L82.66,344.83 L85.75,345.65 L88.84,346.46 L91.94,347.26 L95.03,348.06 L98.13,348.85 L101.23,349.63 L104.32,350.41 L107.42,351.17 L110.52,351.93 L113.62,352.69 L116.73,353.43 L119.83,354.17 L122.93,354.90 L126.04,355.62 L129.14,356.33 L132.25,357.04 L135.36,357.74 L138.47,358.44 L141.57,359.12 L144.68,359.80 L147.79,360.47 L150.91,361.13 L154.02,361.79 L157.13,362.44 L160.24,363.08 L163.36,363.71 L166.47,364.34 L169.59,364.96 L172.70,365.57 L175.82,366.17 L178.94,366.77 L182.05,367.36 L185.17,367.94 L188.29,368.52 L191.41,369.09 L194.53,369.65 L197.65,370.20 L200.77,370.75 L203.89,371.29 L207.01,371.82 L210.13,372.35 L213.25,372.86 L216.37,373.37 L219.50,373.88 L222.62,374.37 L225.74,374.86 L228.86,375.35 L231.99,375.82 L235.11,376.29 L238.24,376.75 L241.36,377.20 L244.48,377.65 L247.61,378.09 L250.73,378.52 L253.86,378.95 L256.98,379.36 L260.11,379.77 L263.23,380.18 L266.36,380.58 L269.48,380.97 L272.60,381.35 L275.73,381.72 L278.85,382.09 L281.98,382.45 L285.10,382.81 L288.23,383.16 L291.35,383.50 L294.48,383.83 L297.60,384.16 L300.73,384.48 L303.85,384.79 L306.97,385.10 L310.10,385.39 L313.22,385.69 L316.34,385.97 L319.47,386.25 L322.59,386.52 L325.71,386.78 L328.83,387.04 L331.96,387.29 L335.08,387.54 L338.20,387.77 L341.32,388.00 L344.44,388.22 L347.56,388.44 L350.68,388.65 L353.80,388.85 L356.92,389.05 L360.03,389.23 L363.15,389.42 L366.27,389.59 L369.39,389.76 L372.50,389.92 L375.62,390.07 L378.73,390.22 L381.85,390.36 L384.96,390.50 L388.07,390.62 L391.19,390.74 L394.30,390.86 L397.41,390.96 L400.52,391.06 L403.63,391.15 L406.74,391.24 L409.85,391.32 L412.96,391.39 L416.06,391.46 L419.17,391.52 L422.27,391.57 L425.38,391.62 L428.48,391.66 L431.59,391.69 L434.69,391.71 L437.79,391.73 L440.89,391.74 L443.99,391.75 L447.09,391.75 L450.19,391.74 L453.28,391.72 L456.38,391.70 L459.47,391.68 L462.57,391.64 L465.66,391.60 L468.75,391.55 L471.84,391.50 L474.93,391.43 L478.02,391.37 L481.11,391.29 L484.20,391.21 L487.28,391.12 L490.37,391.03 L493.45,390.93 L496.53,390.82 L499.61,390.70 L502.69,390.58 L505.77,390.45 L508.85,390.32 L511.93,390.18 L515.00,390.03 L518.07,389.88 L521.15,389.71 L524.22,389.55 L527.29,389.37 L530.36,389.19 L533.42,389.00 L536.49,388.81 L539.55,388.61 L542.62,388.40 L545.68,388.19 L548.74,387.97 L551.80,387.74 L554.86,387.51 L557.91,387.27 L560.97,387.02 L564.02,386.77 L567.07,386.51 L570.12,386.24 L573.17,385.97 L576.22,385.69 L579.26,385.40 L582.31,385.11 L585.35,384.81 L588.39,384.51 L591.43,384.20 L594.47,383.88 L597.50,383.55 L600.53,383.22 L603.57,382.88 L606.60,382.54 L609.63,382.19 L612.65,381.83 L615.68,381.46 L618.70,381.09 L621.73,380.72 L624.75,380.33 L627.76,379.94 L630.78,379.54 L633.80,379.14 L636.81,378.73 L639.82,378.31 L642.83,377.89 L645.84,377.46 L648.84,377.03 L651.85,376.58 L654.85,376.13 L657.85,375.68 L660.85,375.22 L663.84,374.75 L666.83,374.27 L669.83,373.79 L672.82,373.31 L675.80,372.81 L678.79,372.31 L681.77,371.80 L684.75,371.29 L687.73,370.77 L690.71,370.24 L693.69,369.71 L696.66,369.17 L699.63,368.62 L702.60,368.07 L705.57,367.51 L708.53,366.95 L711.49,366.37 L714.45,365.79 L717.41,365.21 L720.36,364.62 L723.32,364.02 L726.27,363.42 L729.22,362.80 L732.16,362.19 L735.11,361.56 L738.05,360.93 L740.99,360.30 L743.92,359.65 L746.86,359.00 L749.79,358.35 L752.72,357.68 L755.65,357.01 L758.57,356.34 L761.49,355.66 L764.41,354.97 L767.33,354.27 L770.24,353.57 L773.16,352.86 L776.06,352.15 L778.97,351.43 L781.88,350.70 L784.78,349.97 L787.68,349.23 L790.57,348.48 L793.47,347.73 L796.36,346.97 L799.25,346.20 L802.13,345.43 L805.01,344.65 L807.89,343.86 L810.77,343.07 L813.65,342.27 L816.52,341.47 L819.39,340.65 L822.25,339.84 L825.12,339.01 L827.98,338.18 L830.83,337.34 L833.69,336.50 L836.54,335.65 L839.39,334.79 L842.24,333.93 L845.08,333.06 L847.92,332.18 L850.76,331.30 L853.59,330.41 L856.42,329.51 L859.25,328.61 L862.07,327.70 L864.90,326.78 L867.71,325.86 L870.53,324.93 L873.34,324.00 L876.15,323.05 L878.96,322.11 L881.76,321.15 L884.56,320.19 L887.36,319.22 L890.15,318.25 L892.94,317.27 M12.10,236.98 L14.94,238.04 L17.79,239.09 L20.63,240.14 L23.48,241.17 L26.33,242.20 L29.18,243.22 L32.04,244.24 L34.90,245.24 L37.76,246.24 L40.62,247.23 L43.48,248.21 L46.34,249.19 L49.21,250.16 L52.08,251.12 L54.95,252.07 L57.82,253.02 L60.69,253.96 L63.57,254.89 L66.45,255.81 L69.32,256.73 L72.20,257.63 L75.09,258.53 L77.97,259.43 L80.86,260.31 L83.74,261.19 L86.63,262.06 L89.52,262.93 L92.41,263.78 L95.31,264.63 L98.20,265.47 L101.10,266.31 L103.99,267.14 L106.89,267.96 L109.79,268.77 L112.69,269.57 L115.60,270.37 L118.50,271.16 L121.40,271.94 L124.31,272.72 L127.22,273.49 L130.13,274.25 L133.04,275.00 L135.95,275.75 L138.86,276.49 L141.77,277.22 L144.69,277.94 L147.61,278.66 L150.52,279.37 L153.44,280.08 L156.36,280.77 L159.28,281.46 L162.20,282.14 L165.12,282.82 L168.04,283.48 L170.97,284.14 L173.89,284.80 L176.82,285.44 L179.74,286.08 L182.67,286.71 L185.60,287.34 L188.53,287.95 L191.46,288.56 L194.39,289.16 L197.32,289.76 L200.25,290.35 L203.18,290.93 L206.12,291.51 L209.05,292.07 L211.98,292.63 L214.92,293.19 L217.86,293.73 L220.79,294.27 L223.73,294.80 L226.67,295.33 L229.60,295.85 L232.54,296.36 L235.48,296.86 L238.42,297.36 L241.36,297.85 L244.30,298.33 L247.24,298.81 L250.18,299.28 L253.12,299.74 L256.06,300.19 L259.01,300.64 L261.95,301.08 L264.89,301.52 L267.83,301.94 L270.78,302.36 L273.72,302.78 L276.66,303.18 L279.61,303.58 L282.55,303.98 L285.50,304.36 L288.44,304.74 L291.38,305.11 L294.33,305.48 L297.27,305.84 L300.22,306.19 L303.16,306.53 L306.11,306.87 L309.05,307.20 L312.00,307.52 L314.94,307.84 L317.89,308.15 L320.83,308.45 L323.77,308.75 L326.72,309.04 L329.66,309.32 L332.61,309.60 L335.55,309.87 L338.50,310.13 L341.44,310.39 L344.38,310.64 L347.33,310.88 L350.27,311.11 L353.21,311.34 L356.15,311.56 L359.10,311.78 L362.04,311.99 L364.98,312.19 L367.92,312.38 L370.86,312.57 L373.80,312.75 L376.74,312.93 L379.68,313.10 L382.62,313.26 L385.56,313.41 L388.50,313.56 L391.44,313.70 L394.37,313.84 L397.31,313.96 L400.25,314.08 L403.18,314.20 L406.12,314.31 L409.05,314.41 L411.99,314.50 L414.92,314.59 L417.85,314.67 L420.78,314.74 L423.72,314.81 L426.65,314.87 L429.58,314.93 L432.51,314.98 L435.44,315.02 L438.36,315.05 L441.29,315.08 L444.22,315.10 L447.14,315.12 L450.07,315.12 L452.99,315.13 L455.91,315.12 L458.84,315.11 L461.76,315.09 L464.68,315.07 L467.60,315.03 L470.52,315.00 L473.44,314.95 L476.35,314.90 L479.27,314.84 L482.18,314.78 L485.10,314.71 L488.01,314.63 L490.92,314.55 L493.83,314.46 L496.74,314.36 L499.65,314.25 L502.56,314.14 L505.46,314.03 L508.37,313.90 L511.27,313.78 L514.18,313.64 L517.08,313.50 L519.98,313.35 L522.88,313.19 L525.78,313.03 L528.67,312.86 L531.57,312.68 L534.46,312.50 L537.35,312.31 L540.25,312.12 L543.14,311.92 L546.03,311.71 L548.91,311.50 L551.80,311.28 L554.68,311.05 L557.57,310.82 L560.45,310.57 L563.33,310.33 L566.21,310.08 L569.09,309.82 L571.96,309.55 L574.84,309.28 L577.71,309.00 L580.58,308.71 L583.45,308.42 L586.32,308.12 L589.19,307.82 L592.05,307.51 L594.91,307.19 L597.78,306.86 L600.64,306.53 L603.50,306.20 L606.35,305.85 L609.21,305.50 L612.06,305.15 L614.91,304.79 L617.76,304.42 L620.61,304.04 L623.46,303.66 L626.30,303.27 L629.15,302.88 L631.99,302.47 L634.83,302.07 L637.66,301.65 L640.50,301.23 L643.33,300.81 L646.16,300.37 L648.99,299.93 L651.82,299.49 L654.65,299.03 L657.47,298.57 L660.29,298.11 L663.11,297.64 L665.93,297.16 L668.75,296.68 L671.56,296.18 L674.37,295.69 L677.18,295.18 L679.99,294.67 L682.79,294.16 L685.60,293.63 L688.40,293.10 L691.20,292.57 L693.99,292.03 L696.79,291.48 L699.58,290.92 L702.37,290.36 L705.16,289.80 L707.94,289.22 L710.73,288.64 L713.51,288.05 L716.29,287.46 L719.06,286.86 L721.84,286.26 L724.61,285.64 L727.38,285.02 L730.15,284.40 L732.91,283.77 L735.67,283.13 L738.43,282.49 L741.19,281.84 L743.94,281.18 L746.70,280.52 L749.45,279.85 L752.19,279.17 L754.94,278.49 L757.68,277.80 L760.42,277.10 L763.15,276.40 L765.89,275.69 L768.62,274.98 L771.35,274.26 L774.08,273.53 L776.80,272.80 L779.52,272.06 L782.24,271.31 L784.95,270.56 L787.67,269.80 L790.38,269.04 L793.08,268.26 L795.79,267.49 L798.49,266.70 L801.19,265.91 L803.88,265.11 L806.58,264.31 L809.27,263.50 L811.95,262.68 L814.64,261.86 L817.32,261.03 L820.00,260.20 L822.67,259.35 L825.34,258.51 L828.01,257.65 L830.68,256.79 L833.34,255.92 L836.00,255.05 L838.66,254.17 L841.31,253.28 L843.96,252.39 L846.61,251.49 L849.26,250.58 L851.90,249.67 L854.54,248.75 L857.17,247.83 L859.80,246.90 L862.43,245.96 L865.06,245.01 L867.68,244.06 M41.92,160.82 L44.55,161.86 L47.18,162.89 L49.81,163.91 L52.45,164.93 L55.09,165.93 L57.73,166.94 L60.37,167.93 L63.02,168.92 L65.66,169.90 L68.31,170.87 L70.97,171.84 L73.62,172.80 L76.28,173.75 L78.93,174.69 L81.59,175.63 L84.26,176.56 L86.92,177.48 L89.59,178.40 L92.25,179.30 L94.92,180.21 L97.60,181.10 L100.27,181.99 L102.94,182.87 L105.62,183.74 L108.30,184.60 L110.98,185.46 L113.66,186.31 L116.35,187.16 L119.03,188.00 L121.72,188.83 L124.41,189.65 L127.10,190.46 L129.79,191.27 L132.49,192.08 L135.18,192.87 L137.88,193.66 L140.58,194.44 L143.28,195.21 L145.98,195.98 L148.68,196.74 L151.39,197.49 L154.09,198.24 L156.80,198.98 L159.51,199.71 L162.22,200.43 L164.93,201.15 L167.64,201.86 L170.36,202.56 L173.07,203.26 L175.79,203.95 L178.50,204.63 L181.22,205.31 L183.94,205.98 L186.66,206.64 L189.38,207.30 L192.11,207.94 L194.83,208.59 L197.56,209.22 L200.28,209.85 L203.01,210.47 L205.74,211.08 L208.47,211.69 L211.20,212.29 L213.93,212.88 L216.66,213.47 L219.39,214.05 L222.12,214.62 L224.86,215.19 L227.59,215.74 L230.33,216.30 L233.07,216.84 L235.80,217.38 L238.54,217.91 L241.28,218.44 L244.02,218.95 L246.76,219.47 L249.50,219.97 L252.24,220.47 L254.98,220.96 L257.73,221.44 L260.47,221.92 L263.21,222.39 L265.96,222.85 L268.70,223.31 L271.45,223.76 L274.19,224.21 L276.94,224.64 L279.69,225.07 L282.43,225.50 L285.18,225.91 L287.93,226.32 L290.68,226.73 L293.43,227.12 L296.17,227.51 L298.92,227.90 L301.67,228.27 L304.42,228.64 L307.17,229.00 L309.92,229.36 L312.67,229.71 L315.42,230.05 L318.17,230.39 L320.93,230.72 L323.68,231.04 L326.43,231.36 L329.18,231.67 L331.93,231.97 L334.68,232.27 L337.43,232.56 L340.18,232.84 L342.94,233.12 L345.69,233.39 L348.44,233.65 L351.19,233.91 L353.94,234.16 L356.69,234.40 L359.44,234.64 L362.19,234.87 L364.94,235.10 L367.70,235.31 L370.45,235.52 L373.20,235.73 L375.95,235.93 L378.70,236.12 L381.44,236.30 L384.19,236.48 L386.94,236.65 L389.69,236.82 L392.44,236.97 L395.19,237.13 L397.94,237.27 L400.68,237.41 L403.43,237.54 L406.18,237.67 L408.92,237.79 L411.67,237.90 L414.41,238.01 L417.16,238.11 L419.90,238.20 L422.64,238.29 L425.39,238.37 L428.13,238.44 L430.87,238.51 L433.61,238.57 L436.35,238.63 L439.09,238.67 L441.83,238.72 L444.57,238.75 L447.31,238.78 L450.04,238.80 L452.78,238.82 L455.52,238.83 L458.25,238.83 L460.99,238.83 L463.72,238.82 L466.45,238.80 L469.18,238.78 L471.91,238.75 L474.64,238.71 L477.37,238.67 L480.10,238.62 L482.83,238.57 L485.56,238.51 L488.28,238.44 L491.01,238.37 L493.73,238.29 L496.45,238.20 L499.17,238.11 L501.90,238.01 L504.61,237.90 L507.33,237.79 L510.05,237.67 L512.77,237.55 L515.48,237.41 L518.20,237.28 L520.91,237.13 L523.62,236.98 L526.33,236.83 L529.04,236.66 L531.75,236.49 L534.46,236.32 L537.16,236.14 L539.87,235.95 L542.57,235.75 L545.27,235.55 L547.97,235.34 L550.67,235.13 L553.37,234.91 L556.07,234.68 L558.76,234.45 L561.45,234.21 L564.15,233.97 L566.84,233.72 L569.53,233.46 L572.21,233.19 L574.90,232.92 L577.59,232.65 L580.27,232.36 L582.95,232.07 L585.63,231.78 L588.31,231.48 L590.99,231.17 L593.66,230.85 L596.34,230.53 L599.01,230.21 L601.68,229.87 L604.35,229.53 L607.02,229.19 L609.68,228.83 L612.35,228.48 L615.01,228.11 L617.67,227.74 L620.33,227.36 L622.98,226.98 L625.64,226.59 L628.29,226.19 L630.94,225.79 L633.59,225.38 L636.24,224.97 L638.89,224.55 L641.53,224.12 L644.17,223.69 L646.81,223.25 L649.45,222.80 L652.09,222.35 L654.72,221.89 L657.35,221.42 L659.98,220.95 L662.61,220.48 L665.24,219.99 L667.86,219.50 L670.48,219.01 L673.10,218.50 L675.72,218.00 L678.33,217.48 L680.95,216.96 L683.56,216.43 L686.17,215.90 L688.77,215.36 L691.38,214.81 L693.98,214.26 L696.58,213.70 L699.18,213.14 L701.77,212.57 L704.37,211.99 L706.96,211.41 L709.55,210.82 L712.13,210.22 L714.72,209.62 L717.30,209.01 L719.87,208.40 L722.45,207.78 L725.02,207.15 L727.60,206.52 L730.17,205.88 L732.73,205.23 L735.30,204.58 L737.86,203.92 L740.42,203.26 L742.97,202.59 L745.52,201.91 L748.08,201.23 L750.62,200.54 L753.17,199.85 L755.71,199.14 L758.25,198.44 L760.79,197.72 L763.32,197.00 L765.86,196.28 L768.39,195.55 L770.91,194.81 L773.44,194.06 L775.96,193.31 L778.48,192.55 L780.99,191.79 L783.50,191.02 L786.01,190.25 L788.52,189.46 L791.02,188.67 L793.52,187.88 L796.02,187.08 L798.52,186.27 L801.01,185.46 L803.50,184.64 L805.98,183.82 L808.47,182.98 L810.95,182.15 L813.42,181.30 L815.90,180.45 L818.37,179.59 L820.83,178.73 L823.30,177.86 L825.76,176.99 L828.22,176.11 L830.67,175.22 L833.12,174.32 L835.57,173.42 L838.01,172.52 L840.46,171.61 M73.87,86.11 L76.28,87.12 L78.68,88.11 L81.09,89.10 L83.51,90.09 L85.92,91.06 L88.34,92.03 L90.76,92.99 L93.18,93.95 L95.61,94.90 L98.03,95.84 L100.46,96.78 L102.89,97.71 L105.33,98.63 L107.76,99.54 L110.20,100.45 L112.64,101.35 L115.09,102.25 L117.53,103.13 L119.98,104.02 L122.43,104.89 L124.88,105.76 L127.33,106.62 L129.78,107.47 L132.24,108.32 L134.70,109.16 L137.16,110.00 L139.62,110.82 L142.09,111.64 L144.55,112.46 L147.02,113.27 L149.49,114.07 L151.96,114.86 L154.44,115.65 L156.91,116.43 L159.39,117.20 L161.87,117.97 L164.35,118.73 L166.83,119.48 L169.31,120.23 L171.80,120.97 L174.28,121.70 L176.77,122.43 L179.26,123.15 L181.75,123.87 L184.25,124.57 L186.74,125.27 L189.24,125.97 L191.73,126.65 L194.23,127.34 L196.73,128.01 L199.23,128.68 L201.74,129.34 L204.24,129.99 L206.75,130.64 L209.25,131.28 L211.76,131.92 L214.27,132.54 L216.78,133.16 L219.29,133.78 L221.80,134.39 L224.32,134.99 L226.83,135.58 L229.35,136.17 L231.86,136.76 L234.38,137.33 L236.90,137.90 L239.42,138.46 L241.94,139.02 L244.46,139.57 L246.99,140.11 L249.51,140.65 L252.03,141.18 L254.56,141.70 L257.09,142.22 L259.61,142.73 L262.14,143.23 L264.67,143.73 L267.20,144.22 L269.73,144.70 L272.26,145.18 L274.79,145.65 L277.33,146.12 L279.86,146.58 L282.39,147.03 L284.93,147.47 L287.46,147.91 L290.00,148.34 L292.54,148.77 L295.07,149.19 L297.61,149.60 L300.15,150.01 L302.69,150.41 L305.23,150.81 L307.76,151.19 L310.30,151.57 L312.84,151.95 L315.39,152.32 L317.93,152.68 L320.47,153.03 L323.01,153.38 L325.55,153.73 L328.09,154.06 L330.64,154.39 L333.18,154.72 L335.72,155.03 L338.27,155.34 L340.81,155.65 L343.35,155.95 L345.90,156.24 L348.44,156.52 L350.99,156.80 L353.53,157.08 L356.08,157.34 L358.62,157.60 L361.16,157.86 L363.71,158.10 L366.25,158.35 L368.80,158.58 L371.34,158.81 L373.89,159.03 L376.43,159.25 L378.98,159.46 L381.52,159.66 L384.07,159.86 L386.61,160.05 L389.15,160.23 L391.70,160.41 L394.24,160.58 L396.79,160.75 L399.33,160.91 L401.87,161.06 L404.41,161.20 L406.96,161.35 L409.50,161.48 L412.04,161.61 L414.58,161.73 L417.12,161.84 L419.66,161.95 L422.20,162.06 L424.74,162.15 L427.28,162.24 L429.82,162.33 L432.36,162.41 L434.90,162.48 L437.44,162.54 L439.97,162.60 L442.51,162.65 L445.05,162.70 L447.58,162.74 L450.12,162.78 L452.65,162.80 L455.18,162.83 L457.72,162.84 L460.25,162.85 L462.78,162.85 L465.31,162.85 L467.84,162.84 L470.37,162.83 L472.90,162.81 L475.43,162.78 L477.96,162.74 L480.48,162.71 L483.01,162.66 L485.53,162.61 L488.06,162.55 L490.58,162.48 L493.10,162.41 L495.62,162.34 L498.14,162.25 L500.66,162.16 L503.18,162.07 L505.70,161.97 L508.22,161.86 L510.73,161.75 L513.24,161.63 L515.76,161.50 L518.27,161.37 L520.78,161.23 L523.29,161.08 L525.80,160.93 L528.31,160.78 L530.81,160.61 L533.32,160.45 L535.82,160.27 L538.33,160.09 L540.83,159.90 L543.33,159.71 L545.83,159.51 L548.33,159.30 L550.82,159.09 L553.32,158.88 L555.81,158.65 L558.31,158.42 L560.80,158.19 L563.29,157.94 L565.78,157.70 L568.26,157.44 L570.75,157.18 L573.23,156.91 L575.72,156.64 L578.20,156.36 L580.68,156.08 L583.15,155.79 L585.63,155.49 L588.11,155.19 L590.58,154.88 L593.05,154.57 L595.52,154.24 L597.99,153.92 L600.46,153.58 L602.92,153.25 L605.39,152.90 L607.85,152.55 L610.31,152.19 L612.77,151.83 L615.23,151.46 L617.68,151.08 L620.13,150.70 L622.58,150.32 L625.03,149.92 L627.48,149.52 L629.93,149.12 L632.37,148.71 L634.81,148.29 L637.25,147.86 L639.69,147.43 L642.13,147.00 L644.56,146.56 L647.00,146.11 L649.43,145.66 L651.86,145.20 L654.28,144.73 L656.71,144.26 L659.13,143.78 L661.55,143.30 L663.97,142.81 L666.38,142.31 L668.80,141.81 L671.21,141.30 L673.62,140.79 L676.02,140.27 L678.43,139.74 L680.83,139.21 L683.23,138.67 L685.63,138.13 L688.03,137.58 L690.42,137.02 L692.81,136.46 L695.20,135.90 L697.59,135.32 L699.97,134.74 L702.35,134.16 L704.73,133.56 L707.11,132.97 L709.49,132.36 L711.86,131.75 L714.23,131.14 L716.60,130.52 L718.96,129.89 L721.32,129.26 L723.68,128.62 L726.04,127.97 L728.39,127.32 L730.75,126.66 L733.09,126.00 L735.44,125.33 L737.79,124.65 L740.13,123.97 L742.46,123.29 L744.80,122.59 L747.13,121.89 L749.46,121.19 L751.79,120.48 L754.12,119.76 L756.44,119.04 L758.76,118.31 L761.07,117.57 L763.39,116.83 L765.70,116.09 L768.01,115.33 L770.31,114.57 L772.61,113.81 L774.91,113.04 L777.21,112.26 L779.50,111.48 L781.79,110.69 L784.08,109.90 L786.36,109.10 L788.64,108.29 L790.92,107.48 L793.19,106.66 L795.46,105.83 L797.73,105.00 L800.00,104.17 L802.26,103.32 L804.52,102.48 L806.77,101.62 L809.03,100.76 L811.27,99.90" fill="none" stroke="#000" stroke-width="1.5" stroke-dasharray="1.3 1.4"/>
<path d="M267.25,82.62 L275.38,77.62 L276.62,76.38 L277.00,79.50 L279.75,81.38 L277.25,82.62 L268.50,87.00 L267.25,87.62 L267.00,84.50 L267.25,82.62 M399.75,133.88 L406.00,128.88 L417.25,128.25 L422.25,123.25 L424.12,118.88 L427.88,115.75 L432.88,116.38 L439.12,112.00 L443.50,110.75 L448.50,110.75 L449.12,107.62 L451.62,105.75 L456.00,105.50 L460.38,102.00 L461.62,98.25 L463.50,95.12 L467.25,93.88 L467.25,88.25 L468.50,84.50 L471.00,81.38 L467.88,78.88 L471.00,76.38 L476.00,74.50 L479.75,71.38 M408.50,120.75 L412.25,120.75 L413.50,122.00 L421.62,121.38 M459.75,92.62 L463.50,88.25 M501.00,71.38 L502.88,82.00 L504.12,83.88 L502.88,85.75 L503.50,92.00 L502.25,100.75 L501.00,107.00 L499.75,110.75 L493.50,117.00 L491.00,120.75 L487.88,127.00 L484.75,134.50 L481.00,143.25 L479.75,147.00 M517.25,71.38 L518.50,79.50 L519.12,87.00 L518.50,102.00 L522.25,109.50 L521.00,117.00 L521.00,125.75 L522.25,134.50 L523.50,145.75 L524.12,148.25 M533.50,71.38 L541.00,88.25 L542.25,95.12 L546.00,98.88 L546.62,101.38 L545.38,100.12 L541.00,95.12 L538.50,92.62 L531.00,92.62 L528.50,95.75 L527.25,105.75 L525.38,113.25 L526.62,120.75 L531.00,124.50 L533.50,130.75 L536.00,133.25 L537.25,138.25 L538.50,142.00 L537.88,144.50 M527.25,133.25 L536.62,132.00 L539.12,142.00 M520.00,152.75 L526.00,152.75 L530.50,158.00 L539.50,164.75 L547.00,170.75 L553.00,172.25 L558.25,170.75 L561.25,167.00 L562.75,170.00 L560.50,176.00 L564.25,179.00 L568.75,179.30 L565.00,183.50 L559.00,186.50 L551.50,190.25 L547.00,195.50 L542.50,205.25 L536.50,202.25 L524.50,196.25 L515.50,201.50 L511.00,204.00 L513.00,208.00 L519.00,210.00 L511.00,210.00 L507.00,216.00 L506.00,210.00 L503.00,202.00 L504.00,197.00 L510.00,192.00 L508.00,189.00 L510.00,187.00 L517.00,189.00 L520.00,186.00 L519.00,180.00 L521.50,170.00 L521.50,159.50 L520.00,152.75 M506.00,240.00 L506.00,227.00 L510.00,220.00 L513.00,219.00 L515.00,224.00 L519.00,222.00 L520.00,216.00 L523.00,215.00 L523.00,223.00 L526.00,230.00 L530.00,236.00 L532.00,240.00 M563.00,175.00 L571.00,164.00 L574.75,162.50 L566.00,174.00 L563.00,175.00 M578.50,161.00 L586.00,153.50 L587.50,147.50 L595.00,143.00 L597.00,140.00 M506.00,227.00 L506.00,238.00 L508.00,244.00 L504.00,256.00 L502.70,260.00 L498.70,270.70 L492.00,277.30 L480.00,285.30 L474.70,288.00 L473.30,282.70 L476.00,277.30 L472.00,281.30 L469.30,289.30 L461.30,298.70 L461.30,304.00 L452.00,307.30 L440.00,306.00 M532.00,240.00 L531.25,243.50 L529.00,251.00 L526.00,260.00 L521.50,263.00 L520.75,275.00 L518.50,287.00 L517.75,296.00 L520.75,302.00 L515.50,308.00 L509.50,314.00 L507.25,320.00 M507.25,320.00 L509.50,314.00 L512.50,306.50 L511.00,303.50 L506.50,305.00 L505.00,311.00 L508.00,311.00 M396.75,323.25 L409.00,316.25 L416.00,311.00 L423.00,307.50 L428.25,308.38 L433.50,307.50 L442.25,305.75 L449.25,304.88 L452.75,307.50 M396.75,323.25 L395.88,327.63 L403.75,328.50 L416.00,324.13 L424.75,323.25 L433.50,319.75 L444.00,318.88 L452.75,319.75 L453.63,323.25 L447.50,330.25 L449.25,335.50 L456.25,339.00 L463.25,332.00 L468.50,326.75 L472.00,325.00 L471.13,316.25 L475.50,318.00 L482.51,319.75 L489.51,318.00 L494.76,312.75 L503.51,311.00 L510.51,304.00 L511.38,309.25 L507.01,312.75 L514.01,312.75 L521.01,305.75 L524.51,300.50 M403.75,336.38 L416.00,326.75 L431.75,324.13 L440.50,323.25 L444.00,326.75 L443.13,333.75 L438.75,341.63 L433.50,337.25 L424.75,340.75 L423.00,349.50 L416.00,346.00 L409.00,340.75 L403.75,336.38 M381.00,337.25 L388.00,332.00 L396.75,332.88 L402.00,337.25 L408.13,342.50 L409.00,349.50 L403.75,360.00 L402.00,370.50 L393.25,375.75 L386.25,370.50 L384.50,360.00 L381.00,358.25 M361.94,237.50 L360.06,245.00 L363.81,248.75 L368.50,256.25 L372.25,265.63 L376.00,275.00 L378.82,286.26 L380.69,297.51 L378.82,305.01 L376.94,312.51 M324.62,260.00 L335.88,264.50 L347.88,269.00 L349.38,278.00 L341.88,282.51 L344.88,290.01 L344.13,293.76 L342.25,301.26 L340.38,312.51 M257.25,292.51 L266.63,283.13 L274.13,277.51 L283.50,275.63 L292.88,273.76 L297.57,269.07 L291.00,266.26 L281.63,260.63 L276.00,258.75 L268.50,260.63 L262.88,266.26 L255.38,266.26 L253.50,260.63 L254.44,251.25 L249.75,249.38 L242.25,245.63 L239.44,240.00 L243.19,232.50 L248.81,235.32 L255.38,233.44 L262.88,228.75 L266.63,225.00 L274.13,223.13 L279.75,219.38 L286.32,213.75 L291.00,212.81 L296.63,213.75 L300.38,219.38 L298.50,225.00 L292.88,228.75 L289.13,232.50 L287.25,236.25 L290.07,238.13 L289.13,241.88 L283.50,244.69 L291.00,243.75 L300.38,238.13 L309.75,234.38 L321.01,232.50 L328.51,236.25 L336.94,239.07 L334.13,243.75 L332.26,251.25 L328.51,255.00 L324.76,260.63 M486.70,130.00 L482.70,139.30 L481.30,144.70 L476.00,150.00 L470.70,155.30 L465.30,162.00 L461.30,168.70 L457.30,172.70 L454.70,178.00 L452.00,183.30 L446.70,187.30 L440.00,192.70 L434.70,195.30 L428.00,196.70 L424.00,195.30 L420.00,194.00 M416.00,160.00 L420.00,157.00 L425.00,160.00 L424.00,166.00 L419.00,168.00 L415.00,165.00 L416.00,160.00 M440.00,192.00 L436.00,195.00 L428.00,198.00 L424.00,196.00 L419.00,195.00 L418.00,189.00 L414.00,188.00 L412.00,189.00 L409.00,193.00 L405.00,198.00 L401.00,197.00 L397.00,203.00 L392.00,206.00 L389.00,210.00 L388.00,215.00 L388.00,224.00 L382.00,226.00 L379.00,230.00 L374.00,232.00 L370.00,236.00 M261.94,289.06 L253.50,295.63 L248.81,304.06 L257.25,308.75 L261.00,318.13 L263.81,327.50 L265.69,335.00 L271.32,342.50 L276.00,350.00 L276.94,355.63 L271.32,352.82 L268.50,350.00 M252.56,348.13 L261.00,350.94 L269.44,352.82 L276.00,359.38 L276.00,366.88 L264.75,372.51 L257.25,376.26 L268.50,378.13 L276.00,383.76 L272.25,387.51 L268.50,395.01 L264.75,402.51 M250.69,355.63 L255.38,354.69 L259.13,359.38 L256.31,364.07 L251.63,363.13 L249.75,359.38 L250.69,355.63 M336.01,335.00 L340.69,332.75 L345.38,334.07 L343.51,337.82 L337.88,338.75 L335.07,336.88 L336.01,335.00 M344.44,289.06 L347.26,297.50 L341.63,305.00 L338.82,312.50 L341.63,320.00 L351.01,316.25 L362.26,312.50 L373.51,310.63 L377.26,308.75 M231.00,320.00 L238.50,322.81 L240.38,325.63 L234.75,327.50 L231.00,326.56 M231.00,346.25 L242.25,343.44 L247.88,340.63 L246.00,335.00 M267.83,398.88 L264.48,404.46 L255.55,408.93 L252.21,413.39 L246.62,422.32 L239.93,426.79 L236.58,431.25 L234.35,440.18 L232.12,446.88 L229.88,449.11 M261.13,453.57 L266.71,456.92 L267.83,460.27 L264.48,464.73 L260.02,473.66 L255.55,487.05 L249.97,495.98 L245.51,503.79 L241.04,495.98 L237.70,487.05 L236.58,480.36 L239.93,473.66 L246.62,464.73 L253.32,456.92 L261.13,453.57" fill="none" stroke="#000" stroke-width="1.4" stroke-linejoin="round" stroke-linecap="round"/>
<path d="M357,437.5 L352.5,441 L349,444.5 L347.8,448" fill="none" stroke="#000" stroke-width="2.8" stroke-linecap="round"/>
</g>
<rect x="231.6" y="72.3" width="364.79999999999995" height="461.90000000000003" fill="none" stroke="#000" stroke-width="1.5"/>
<text x="323.00" y="46.2" font-size="17" textLength="74.60" lengthAdjust="spacingAndGlyphs">13:00:00</text>
<text x="403.60" y="46.2" font-size="17" textLength="94.80" lengthAdjust="spacingAndGlyphs">2025/12/14</text>
<text x="282.60" y="63.6" font-size="17" textLength="79.40" lengthAdjust="spacingAndGlyphs">EL_mask:</text>
<text x="367.40" y="63.6" font-size="17" textLength="27.60" lengthAdjust="spacingAndGlyphs">30,</text>
<text x="398.00" y="63.6" font-size="17" textLength="80.00" lengthAdjust="spacingAndGlyphs">Mapping:</text>
<text x="482.00" y="63.6" font-size="17" textLength="30.60" lengthAdjust="spacingAndGlyphs">350</text>
<text x="517.60" y="63.6" font-size="17" textLength="27.40" lengthAdjust="spacingAndGlyphs">km</text>
<text x="226.1" y="138.75" font-size="14.2" text-anchor="end" textLength="32.7" lengthAdjust="spacingAndGlyphs">45°N</text>
<text x="226.1" y="219.9" font-size="14.2" text-anchor="end" textLength="32.7" lengthAdjust="spacingAndGlyphs">40°N</text>
<text x="226.1" y="300.85" font-size="14.2" text-anchor="end" textLength="32.7" lengthAdjust="spacingAndGlyphs">35°N</text>
<text x="226.1" y="379.9" font-size="14.2" text-anchor="end" textLength="32.7" lengthAdjust="spacingAndGlyphs">30°N</text>
<text x="226.1" y="458.75" font-size="14.2" text-anchor="end" textLength="32.7" lengthAdjust="spacingAndGlyphs">25°N</text>
<text x="231.9" y="550.95" font-size="14.2" text-anchor="middle" textLength="39.75" lengthAdjust="spacingAndGlyphs">120°E</text>
<text x="304.5" y="550.95" font-size="14.2" text-anchor="middle" textLength="39.75" lengthAdjust="spacingAndGlyphs">125°E</text>
<text x="377.9" y="550.95" font-size="14.2" text-anchor="middle" textLength="39.75" lengthAdjust="spacingAndGlyphs">130°E</text>
<text x="449" y="550.95" font-size="14.2" text-anchor="middle" textLength="39.75" lengthAdjust="spacingAndGlyphs">135°E</text>
<text x="521.1" y="550.95" font-size="14.2" text-anchor="middle" textLength="39.75" lengthAdjust="spacingAndGlyphs">140°E</text>
<text x="593" y="550.95" font-size="14.2" text-anchor="middle" textLength="39.75" lengthAdjust="spacingAndGlyphs">145°E</text>
<rect x="627.0" y="72.2" width="23.799999999999955" height="462.09999999999997" fill="url(#cb)"/>
<rect x="627.0" y="72.2" width="23.799999999999955" height="462.09999999999997" fill="none" stroke="#000" stroke-width="1.2"/>
<line x1="650.8" y1="534.30" x2="655.70" y2="534.30" stroke="#000" stroke-width="1.1"/>
<text x="661.65" y="539.90" font-size="14.2" textLength="28.55" lengthAdjust="spacingAndGlyphs">0.00</text>
<line x1="650.8" y1="457.28" x2="655.70" y2="457.28" stroke="#000" stroke-width="1.1"/>
<text x="661.65" y="462.88" font-size="14.2" textLength="28.55" lengthAdjust="spacingAndGlyphs">0.05</text>
<line x1="650.8" y1="380.27" x2="655.70" y2="380.27" stroke="#000" stroke-width="1.1"/>
<text x="661.65" y="385.87" font-size="14.2" textLength="28.55" lengthAdjust="spacingAndGlyphs">0.10</text>
<line x1="650.8" y1="303.25" x2="655.70" y2="303.25" stroke="#000" stroke-width="1.1"/>
<text x="661.65" y="308.85" font-size="14.2" textLength="28.55" lengthAdjust="spacingAndGlyphs">0.15</text>
<line x1="650.8" y1="226.23" x2="655.70" y2="226.23" stroke="#000" stroke-width="1.1"/>
<text x="661.65" y="231.83" font-size="14.2" textLength="28.55" lengthAdjust="spacingAndGlyphs">0.20</text>
<line x1="650.8" y1="149.22" x2="655.70" y2="149.22" stroke="#000" stroke-width="1.1"/>
<text x="661.65" y="154.82" font-size="14.2" textLength="28.55" lengthAdjust="spacingAndGlyphs">0.25</text>
<line x1="650.8" y1="72.20" x2="655.70" y2="72.20" stroke="#000" stroke-width="1.1"/>
<text x="661.65" y="77.80" font-size="14.2" textLength="28.55" lengthAdjust="spacingAndGlyphs">0.30</text>
<text transform="translate(707.5,303.4) rotate(-90)" font-size="14.2" text-anchor="middle" textLength="115.75" lengthAdjust="spacingAndGlyphs">ROTI [TECU/min]</text>
</svg></body></html>
